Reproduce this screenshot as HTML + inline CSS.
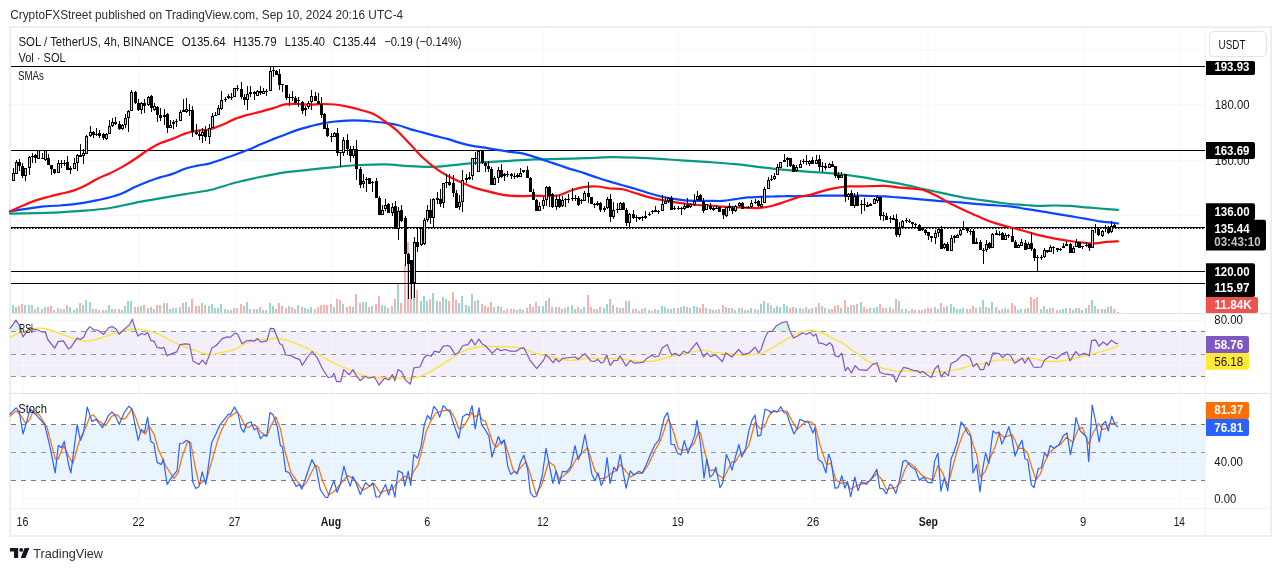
<!DOCTYPE html>
<html><head><meta charset="utf-8"><title>SOL/USDT chart</title>
<style>html,body{margin:0;padding:0;background:#fff;}body{width:1281px;height:571px;overflow:hidden;position:relative;}</style>
</head><body>
<svg width="1281" height="571" viewBox="0 0 1281 571" style="position:absolute;left:0;top:0">
<rect x="10" y="27" width="1261" height="509" fill="#fff" stroke="#eceef2" stroke-width="2"/>
<rect x="11" y="331.4" width="1194" height="45" fill="#f2eefa"/>
<rect x="11" y="424.6" width="1194" height="55.6" fill="#e9f4fe"/>
<line x1="23.7" y1="28" x2="23.7" y2="508" stroke="#f6f7f9" stroke-width="1"/>
<line x1="138.75" y1="28" x2="138.75" y2="508" stroke="#f6f7f9" stroke-width="1"/>
<line x1="235.5" y1="28" x2="235.5" y2="508" stroke="#f6f7f9" stroke-width="1"/>
<line x1="331.25" y1="28" x2="331.25" y2="508" stroke="#f6f7f9" stroke-width="1"/>
<line x1="427.5" y1="28" x2="427.5" y2="508" stroke="#f6f7f9" stroke-width="1"/>
<line x1="543.75" y1="28" x2="543.75" y2="508" stroke="#f6f7f9" stroke-width="1"/>
<line x1="678.75" y1="28" x2="678.75" y2="508" stroke="#f6f7f9" stroke-width="1"/>
<line x1="813.75" y1="28" x2="813.75" y2="508" stroke="#f6f7f9" stroke-width="1"/>
<line x1="928" y1="28" x2="928" y2="508" stroke="#f6f7f9" stroke-width="1"/>
<line x1="1083.25" y1="28" x2="1083.25" y2="508" stroke="#f6f7f9" stroke-width="1"/>
<line x1="1180" y1="28" x2="1180" y2="508" stroke="#f6f7f9" stroke-width="1"/>
<line x1="11" y1="49.5" x2="1205" y2="49.5" stroke="#f6f7f9" stroke-width="1"/>
<line x1="11" y1="104.5" x2="1205" y2="104.5" stroke="#f6f7f9" stroke-width="1"/>
<line x1="11" y1="160.5" x2="1205" y2="160.5" stroke="#f6f7f9" stroke-width="1"/>
<line x1="11" y1="215.5" x2="1205" y2="215.5" stroke="#f6f7f9" stroke-width="1"/>
<line x1="11" y1="271.5" x2="1205" y2="271.5" stroke="#f6f7f9" stroke-width="1"/>
<line x1="11" y1="320.5" x2="1205" y2="320.5" stroke="#f6f7f9" stroke-width="1"/>
<line x1="11" y1="365.5" x2="1205" y2="365.5" stroke="#f6f7f9" stroke-width="1"/>
<line x1="11" y1="461.5" x2="1205" y2="461.5" stroke="#f6f7f9" stroke-width="1"/>
<line x1="11" y1="498.5" x2="1205" y2="498.5" stroke="#f6f7f9" stroke-width="1"/>
<line x1="11" y1="313.5" x2="1269" y2="313.5" stroke="#e0e3eb" stroke-width="1"/>
<line x1="11" y1="393.5" x2="1269" y2="393.5" stroke="#e0e3eb" stroke-width="1"/>
<line x1="11" y1="508.5" x2="1269" y2="508.5" stroke="#f0f2f5" stroke-width="1"/>
<line x1="1205.5" y1="28" x2="1205.5" y2="534" stroke="#f3f4f7" stroke-width="1"/>
<defs><clipPath id="mc"><rect x="11" y="28" width="1194" height="285"/></clipPath></defs>
<g clip-path="url(#mc)"><rect x="8.1" y="308" width="1.8" height="5" fill="#93d2cc"/><rect x="12.1" y="305" width="1.8" height="8" fill="#93d2cc"/><rect x="15.1" y="307" width="1.8" height="6" fill="#93d2cc"/><rect x="18.1" y="306" width="1.8" height="7" fill="#f7a9a7"/><rect x="21.1" y="304" width="1.8" height="9" fill="#f7a9a7"/><rect x="24.1" y="305" width="1.8" height="8" fill="#93d2cc"/><rect x="28.1" y="305" width="1.8" height="8" fill="#93d2cc"/><rect x="31.1" y="305" width="1.8" height="8" fill="#93d2cc"/><rect x="34.1" y="309" width="1.8" height="4" fill="#f7a9a7"/><rect x="37.1" y="307" width="1.8" height="6" fill="#93d2cc"/><rect x="41.1" y="309" width="1.8" height="4" fill="#f7a9a7"/><rect x="44.1" y="307" width="1.8" height="6" fill="#93d2cc"/><rect x="47.1" y="307" width="1.8" height="6" fill="#f7a9a7"/><rect x="50.1" y="306" width="1.8" height="7" fill="#f7a9a7"/><rect x="53.1" y="310" width="1.8" height="3" fill="#f7a9a7"/><rect x="57.1" y="308" width="1.8" height="5" fill="#93d2cc"/><rect x="60.1" y="309" width="1.8" height="4" fill="#f7a9a7"/><rect x="63.1" y="309" width="1.8" height="4" fill="#93d2cc"/><rect x="66.1" y="305" width="1.8" height="8" fill="#f7a9a7"/><rect x="69.1" y="307" width="1.8" height="6" fill="#93d2cc"/><rect x="73.1" y="310" width="1.8" height="3" fill="#93d2cc"/><rect x="76.1" y="308" width="1.8" height="5" fill="#93d2cc"/><rect x="79.1" y="303" width="1.8" height="10" fill="#f7a9a7"/><rect x="82.1" y="305" width="1.8" height="8" fill="#93d2cc"/><rect x="85.1" y="300" width="1.8" height="13" fill="#93d2cc"/><rect x="89.1" y="302" width="1.8" height="11" fill="#93d2cc"/><rect x="92.1" y="309" width="1.8" height="4" fill="#f7a9a7"/><rect x="95.1" y="309" width="1.8" height="4" fill="#93d2cc"/><rect x="98.1" y="310" width="1.8" height="3" fill="#f7a9a7"/><rect x="102.1" y="310" width="1.8" height="3" fill="#f7a9a7"/><rect x="105.1" y="310" width="1.8" height="3" fill="#93d2cc"/><rect x="108.1" y="305" width="1.8" height="8" fill="#93d2cc"/><rect x="111.1" y="309" width="1.8" height="4" fill="#93d2cc"/><rect x="114.1" y="309" width="1.8" height="4" fill="#f7a9a7"/><rect x="118.1" y="309" width="1.8" height="4" fill="#f7a9a7"/><rect x="121.1" y="310" width="1.8" height="3" fill="#93d2cc"/><rect x="124.1" y="306" width="1.8" height="7" fill="#93d2cc"/><rect x="127.1" y="301" width="1.8" height="12" fill="#93d2cc"/><rect x="130.1" y="301" width="1.8" height="12" fill="#93d2cc"/><rect x="134.1" y="307" width="1.8" height="6" fill="#f7a9a7"/><rect x="137.1" y="307" width="1.8" height="6" fill="#f7a9a7"/><rect x="140.1" y="306" width="1.8" height="7" fill="#93d2cc"/><rect x="143.1" y="305" width="1.8" height="8" fill="#f7a9a7"/><rect x="147.1" y="308" width="1.8" height="5" fill="#93d2cc"/><rect x="150.1" y="307" width="1.8" height="6" fill="#f7a9a7"/><rect x="153.1" y="309" width="1.8" height="4" fill="#93d2cc"/><rect x="156.1" y="305" width="1.8" height="8" fill="#f7a9a7"/><rect x="159.1" y="305" width="1.8" height="8" fill="#f7a9a7"/><rect x="163.1" y="303" width="1.8" height="10" fill="#93d2cc"/><rect x="166.1" y="303" width="1.8" height="10" fill="#f7a9a7"/><rect x="169.1" y="309" width="1.8" height="4" fill="#93d2cc"/><rect x="172.1" y="308" width="1.8" height="5" fill="#93d2cc"/><rect x="175.1" y="308" width="1.8" height="5" fill="#93d2cc"/><rect x="179.1" y="307" width="1.8" height="6" fill="#93d2cc"/><rect x="182.1" y="303" width="1.8" height="10" fill="#f7a9a7"/><rect x="185.1" y="302" width="1.8" height="11" fill="#93d2cc"/><rect x="188.1" y="307" width="1.8" height="6" fill="#f7a9a7"/><rect x="191.1" y="299" width="1.8" height="14" fill="#f7a9a7"/><rect x="195.1" y="306" width="1.8" height="7" fill="#f7a9a7"/><rect x="198.1" y="306" width="1.8" height="7" fill="#f7a9a7"/><rect x="201.1" y="303" width="1.8" height="10" fill="#93d2cc"/><rect x="204.1" y="305" width="1.8" height="8" fill="#f7a9a7"/><rect x="208.1" y="306" width="1.8" height="7" fill="#93d2cc"/><rect x="211.1" y="304" width="1.8" height="9" fill="#93d2cc"/><rect x="214.1" y="308" width="1.8" height="5" fill="#93d2cc"/><rect x="217.1" y="308" width="1.8" height="5" fill="#93d2cc"/><rect x="220.1" y="304" width="1.8" height="9" fill="#93d2cc"/><rect x="224.1" y="309" width="1.8" height="4" fill="#93d2cc"/><rect x="227.1" y="310" width="1.8" height="3" fill="#93d2cc"/><rect x="230.1" y="310" width="1.8" height="3" fill="#f7a9a7"/><rect x="233.1" y="308" width="1.8" height="5" fill="#93d2cc"/><rect x="236.1" y="308" width="1.8" height="5" fill="#f7a9a7"/><rect x="240.1" y="304" width="1.8" height="9" fill="#f7a9a7"/><rect x="243.1" y="306" width="1.8" height="7" fill="#f7a9a7"/><rect x="246.1" y="302" width="1.8" height="11" fill="#93d2cc"/><rect x="249.1" y="309" width="1.8" height="4" fill="#93d2cc"/><rect x="253.1" y="309" width="1.8" height="4" fill="#f7a9a7"/><rect x="256.1" y="309" width="1.8" height="4" fill="#93d2cc"/><rect x="259.1" y="307" width="1.8" height="6" fill="#f7a9a7"/><rect x="262.1" y="310" width="1.8" height="3" fill="#93d2cc"/><rect x="265.1" y="310" width="1.8" height="3" fill="#93d2cc"/><rect x="269.1" y="303" width="1.8" height="10" fill="#93d2cc"/><rect x="272.1" y="306" width="1.8" height="7" fill="#93d2cc"/><rect x="275.1" y="309" width="1.8" height="4" fill="#f7a9a7"/><rect x="278.1" y="303" width="1.8" height="10" fill="#f7a9a7"/><rect x="281.1" y="306" width="1.8" height="7" fill="#f7a9a7"/><rect x="285.1" y="308" width="1.8" height="5" fill="#f7a9a7"/><rect x="288.1" y="306" width="1.8" height="7" fill="#93d2cc"/><rect x="291.1" y="307" width="1.8" height="6" fill="#f7a9a7"/><rect x="294.1" y="309" width="1.8" height="4" fill="#f7a9a7"/><rect x="297.1" y="305" width="1.8" height="8" fill="#93d2cc"/><rect x="301.1" y="307" width="1.8" height="6" fill="#f7a9a7"/><rect x="304.1" y="308" width="1.8" height="5" fill="#93d2cc"/><rect x="307.1" y="309" width="1.8" height="4" fill="#93d2cc"/><rect x="310.1" y="307" width="1.8" height="6" fill="#93d2cc"/><rect x="314.1" y="309" width="1.8" height="4" fill="#f7a9a7"/><rect x="317.1" y="307" width="1.8" height="6" fill="#f7a9a7"/><rect x="320.1" y="305" width="1.8" height="8" fill="#f7a9a7"/><rect x="323.1" y="305" width="1.8" height="8" fill="#f7a9a7"/><rect x="326.1" y="305" width="1.8" height="8" fill="#f7a9a7"/><rect x="330.1" y="304" width="1.8" height="9" fill="#f7a9a7"/><rect x="333.1" y="307" width="1.8" height="6" fill="#93d2cc"/><rect x="336.1" y="299" width="1.8" height="14" fill="#f7a9a7"/><rect x="339.1" y="300" width="1.8" height="13" fill="#f7a9a7"/><rect x="342.1" y="304" width="1.8" height="9" fill="#93d2cc"/><rect x="346.1" y="307" width="1.8" height="6" fill="#f7a9a7"/><rect x="349.1" y="306" width="1.8" height="7" fill="#f7a9a7"/><rect x="352.1" y="307" width="1.8" height="6" fill="#93d2cc"/><rect x="355.1" y="294" width="1.8" height="19" fill="#f7a9a7"/><rect x="359.1" y="303" width="1.8" height="10" fill="#f7a9a7"/><rect x="362.1" y="302" width="1.8" height="11" fill="#93d2cc"/><rect x="365.1" y="302" width="1.8" height="11" fill="#93d2cc"/><rect x="368.1" y="307" width="1.8" height="6" fill="#f7a9a7"/><rect x="371.1" y="306" width="1.8" height="7" fill="#93d2cc"/><rect x="375.1" y="304" width="1.8" height="9" fill="#f7a9a7"/><rect x="378.1" y="296" width="1.8" height="17" fill="#f7a9a7"/><rect x="381.1" y="305" width="1.8" height="8" fill="#93d2cc"/><rect x="384.1" y="306" width="1.8" height="7" fill="#93d2cc"/><rect x="387.1" y="308" width="1.8" height="5" fill="#f7a9a7"/><rect x="391.1" y="306" width="1.8" height="7" fill="#93d2cc"/><rect x="394.1" y="299" width="1.8" height="14" fill="#f7a9a7"/><rect x="397.1" y="284" width="1.8" height="29" fill="#93d2cc"/><rect x="400.1" y="303" width="1.8" height="10" fill="#f7a9a7"/><rect x="404.1" y="265" width="1.8" height="48" fill="#f7a9a7"/><rect x="407.1" y="242" width="1.8" height="71" fill="#f7a9a7"/><rect x="410.1" y="263" width="1.8" height="50" fill="#f7a9a7"/><rect x="413.1" y="284" width="1.8" height="29" fill="#93d2cc"/><rect x="416.1" y="290" width="1.8" height="23" fill="#f7a9a7"/><rect x="420.1" y="301" width="1.8" height="12" fill="#93d2cc"/><rect x="423.1" y="296" width="1.8" height="17" fill="#93d2cc"/><rect x="426.1" y="301" width="1.8" height="12" fill="#93d2cc"/><rect x="429.1" y="299" width="1.8" height="14" fill="#f7a9a7"/><rect x="432.1" y="293" width="1.8" height="20" fill="#93d2cc"/><rect x="436.1" y="301" width="1.8" height="12" fill="#93d2cc"/><rect x="439.1" y="302" width="1.8" height="11" fill="#f7a9a7"/><rect x="442.1" y="297" width="1.8" height="16" fill="#93d2cc"/><rect x="445.1" y="299" width="1.8" height="14" fill="#93d2cc"/><rect x="448.1" y="301" width="1.8" height="12" fill="#f7a9a7"/><rect x="452.1" y="292" width="1.8" height="21" fill="#f7a9a7"/><rect x="455.1" y="300" width="1.8" height="13" fill="#f7a9a7"/><rect x="458.1" y="303" width="1.8" height="10" fill="#93d2cc"/><rect x="461.1" y="296" width="1.8" height="17" fill="#93d2cc"/><rect x="465.1" y="305" width="1.8" height="8" fill="#93d2cc"/><rect x="468.1" y="306" width="1.8" height="7" fill="#93d2cc"/><rect x="471.1" y="294" width="1.8" height="19" fill="#93d2cc"/><rect x="474.1" y="301" width="1.8" height="12" fill="#f7a9a7"/><rect x="477.1" y="300" width="1.8" height="13" fill="#93d2cc"/><rect x="481.1" y="304" width="1.8" height="9" fill="#f7a9a7"/><rect x="484.1" y="306" width="1.8" height="7" fill="#f7a9a7"/><rect x="487.1" y="307" width="1.8" height="6" fill="#f7a9a7"/><rect x="490.1" y="302" width="1.8" height="11" fill="#f7a9a7"/><rect x="493.1" y="307" width="1.8" height="6" fill="#93d2cc"/><rect x="497.1" y="306" width="1.8" height="7" fill="#93d2cc"/><rect x="500.1" y="307" width="1.8" height="6" fill="#f7a9a7"/><rect x="503.1" y="310" width="1.8" height="3" fill="#93d2cc"/><rect x="506.1" y="309" width="1.8" height="4" fill="#f7a9a7"/><rect x="510.1" y="309" width="1.8" height="4" fill="#f7a9a7"/><rect x="513.1" y="309" width="1.8" height="4" fill="#93d2cc"/><rect x="516.1" y="310" width="1.8" height="3" fill="#f7a9a7"/><rect x="519.1" y="309" width="1.8" height="4" fill="#93d2cc"/><rect x="522.1" y="310" width="1.8" height="3" fill="#93d2cc"/><rect x="526.1" y="308" width="1.8" height="5" fill="#f7a9a7"/><rect x="529.1" y="304" width="1.8" height="9" fill="#f7a9a7"/><rect x="532.1" y="307" width="1.8" height="6" fill="#f7a9a7"/><rect x="535.1" y="302" width="1.8" height="11" fill="#f7a9a7"/><rect x="538.1" y="306" width="1.8" height="7" fill="#93d2cc"/><rect x="542.1" y="306" width="1.8" height="7" fill="#93d2cc"/><rect x="545.1" y="301" width="1.8" height="12" fill="#93d2cc"/><rect x="548.1" y="298" width="1.8" height="15" fill="#f7a9a7"/><rect x="551.1" y="307" width="1.8" height="6" fill="#f7a9a7"/><rect x="555.1" y="307" width="1.8" height="6" fill="#93d2cc"/><rect x="558.1" y="307" width="1.8" height="6" fill="#f7a9a7"/><rect x="561.1" y="309" width="1.8" height="4" fill="#93d2cc"/><rect x="564.1" y="308" width="1.8" height="5" fill="#f7a9a7"/><rect x="567.1" y="307" width="1.8" height="6" fill="#93d2cc"/><rect x="571.1" y="305" width="1.8" height="8" fill="#93d2cc"/><rect x="574.1" y="309" width="1.8" height="4" fill="#93d2cc"/><rect x="577.1" y="307" width="1.8" height="6" fill="#f7a9a7"/><rect x="580.1" y="309" width="1.8" height="4" fill="#93d2cc"/><rect x="583.1" y="307" width="1.8" height="6" fill="#93d2cc"/><rect x="587.1" y="295" width="1.8" height="18" fill="#f7a9a7"/><rect x="590.1" y="307" width="1.8" height="6" fill="#f7a9a7"/><rect x="593.1" y="309" width="1.8" height="4" fill="#f7a9a7"/><rect x="596.1" y="309" width="1.8" height="4" fill="#93d2cc"/><rect x="599.1" y="307" width="1.8" height="6" fill="#f7a9a7"/><rect x="603.1" y="308" width="1.8" height="5" fill="#93d2cc"/><rect x="606.1" y="304" width="1.8" height="9" fill="#93d2cc"/><rect x="609.1" y="299" width="1.8" height="14" fill="#f7a9a7"/><rect x="612.1" y="305" width="1.8" height="8" fill="#93d2cc"/><rect x="616.1" y="307" width="1.8" height="6" fill="#f7a9a7"/><rect x="619.1" y="308" width="1.8" height="5" fill="#93d2cc"/><rect x="622.1" y="308" width="1.8" height="5" fill="#f7a9a7"/><rect x="625.1" y="301" width="1.8" height="12" fill="#f7a9a7"/><rect x="628.1" y="301" width="1.8" height="12" fill="#93d2cc"/><rect x="632.1" y="309" width="1.8" height="4" fill="#f7a9a7"/><rect x="635.1" y="309" width="1.8" height="4" fill="#f7a9a7"/><rect x="638.1" y="311" width="1.8" height="2" fill="#93d2cc"/><rect x="641.1" y="309" width="1.8" height="4" fill="#f7a9a7"/><rect x="644.1" y="308" width="1.8" height="5" fill="#93d2cc"/><rect x="648.1" y="310" width="1.8" height="3" fill="#93d2cc"/><rect x="651.1" y="311" width="1.8" height="2" fill="#93d2cc"/><rect x="654.1" y="309" width="1.8" height="4" fill="#f7a9a7"/><rect x="657.1" y="310" width="1.8" height="3" fill="#93d2cc"/><rect x="661.1" y="306" width="1.8" height="7" fill="#93d2cc"/><rect x="664.1" y="307" width="1.8" height="6" fill="#93d2cc"/><rect x="667.1" y="309" width="1.8" height="4" fill="#93d2cc"/><rect x="670.1" y="309" width="1.8" height="4" fill="#f7a9a7"/><rect x="673.1" y="308" width="1.8" height="5" fill="#93d2cc"/><rect x="677.1" y="308" width="1.8" height="5" fill="#f7a9a7"/><rect x="680.1" y="307" width="1.8" height="6" fill="#93d2cc"/><rect x="683.1" y="306" width="1.8" height="7" fill="#93d2cc"/><rect x="686.1" y="307" width="1.8" height="6" fill="#f7a9a7"/><rect x="689.1" y="308" width="1.8" height="5" fill="#93d2cc"/><rect x="693.1" y="306" width="1.8" height="7" fill="#93d2cc"/><rect x="696.1" y="307" width="1.8" height="6" fill="#93d2cc"/><rect x="699.1" y="308" width="1.8" height="5" fill="#f7a9a7"/><rect x="702.1" y="304" width="1.8" height="9" fill="#f7a9a7"/><rect x="705.1" y="308" width="1.8" height="5" fill="#93d2cc"/><rect x="709.1" y="309" width="1.8" height="4" fill="#f7a9a7"/><rect x="712.1" y="310" width="1.8" height="3" fill="#93d2cc"/><rect x="715.1" y="310" width="1.8" height="3" fill="#93d2cc"/><rect x="718.1" y="309" width="1.8" height="4" fill="#f7a9a7"/><rect x="722.1" y="305" width="1.8" height="8" fill="#f7a9a7"/><rect x="725.1" y="307" width="1.8" height="6" fill="#93d2cc"/><rect x="728.1" y="308" width="1.8" height="5" fill="#f7a9a7"/><rect x="731.1" y="308" width="1.8" height="5" fill="#f7a9a7"/><rect x="734.1" y="310" width="1.8" height="3" fill="#93d2cc"/><rect x="738.1" y="308" width="1.8" height="5" fill="#93d2cc"/><rect x="741.1" y="308" width="1.8" height="5" fill="#f7a9a7"/><rect x="744.1" y="310" width="1.8" height="3" fill="#93d2cc"/><rect x="747.1" y="310" width="1.8" height="3" fill="#93d2cc"/><rect x="750.1" y="308" width="1.8" height="5" fill="#93d2cc"/><rect x="754.1" y="309" width="1.8" height="4" fill="#93d2cc"/><rect x="757.1" y="310" width="1.8" height="3" fill="#f7a9a7"/><rect x="760.1" y="304" width="1.8" height="9" fill="#93d2cc"/><rect x="763.1" y="301" width="1.8" height="12" fill="#93d2cc"/><rect x="767.1" y="303" width="1.8" height="10" fill="#93d2cc"/><rect x="770.1" y="305" width="1.8" height="8" fill="#f7a9a7"/><rect x="773.1" y="308" width="1.8" height="5" fill="#93d2cc"/><rect x="776.1" y="306" width="1.8" height="7" fill="#93d2cc"/><rect x="779.1" y="307" width="1.8" height="6" fill="#93d2cc"/><rect x="783.1" y="304" width="1.8" height="9" fill="#93d2cc"/><rect x="786.1" y="306" width="1.8" height="7" fill="#93d2cc"/><rect x="789.1" y="308" width="1.8" height="5" fill="#f7a9a7"/><rect x="792.1" y="307" width="1.8" height="6" fill="#f7a9a7"/><rect x="795.1" y="308" width="1.8" height="5" fill="#93d2cc"/><rect x="799.1" y="308" width="1.8" height="5" fill="#93d2cc"/><rect x="802.1" y="309" width="1.8" height="4" fill="#f7a9a7"/><rect x="805.1" y="307" width="1.8" height="6" fill="#f7a9a7"/><rect x="808.1" y="309" width="1.8" height="4" fill="#93d2cc"/><rect x="811.1" y="308" width="1.8" height="5" fill="#f7a9a7"/><rect x="815.1" y="307" width="1.8" height="6" fill="#93d2cc"/><rect x="818.1" y="303" width="1.8" height="10" fill="#f7a9a7"/><rect x="821.1" y="306" width="1.8" height="7" fill="#93d2cc"/><rect x="824.1" y="308" width="1.8" height="5" fill="#f7a9a7"/><rect x="828.1" y="309" width="1.8" height="4" fill="#93d2cc"/><rect x="831.1" y="309" width="1.8" height="4" fill="#f7a9a7"/><rect x="834.1" y="306" width="1.8" height="7" fill="#f7a9a7"/><rect x="837.1" y="305" width="1.8" height="8" fill="#f7a9a7"/><rect x="840.1" y="308" width="1.8" height="5" fill="#93d2cc"/><rect x="844.1" y="300" width="1.8" height="13" fill="#f7a9a7"/><rect x="847.1" y="307" width="1.8" height="6" fill="#93d2cc"/><rect x="850.1" y="305" width="1.8" height="8" fill="#f7a9a7"/><rect x="853.1" y="305" width="1.8" height="8" fill="#93d2cc"/><rect x="856.1" y="304" width="1.8" height="9" fill="#f7a9a7"/><rect x="860.1" y="302" width="1.8" height="11" fill="#93d2cc"/><rect x="863.1" y="307" width="1.8" height="6" fill="#f7a9a7"/><rect x="866.1" y="309" width="1.8" height="4" fill="#f7a9a7"/><rect x="869.1" y="308" width="1.8" height="5" fill="#93d2cc"/><rect x="873.1" y="308" width="1.8" height="5" fill="#93d2cc"/><rect x="876.1" y="307" width="1.8" height="6" fill="#93d2cc"/><rect x="879.1" y="304" width="1.8" height="9" fill="#f7a9a7"/><rect x="882.1" y="308" width="1.8" height="5" fill="#f7a9a7"/><rect x="885.1" y="308" width="1.8" height="5" fill="#f7a9a7"/><rect x="889.1" y="307" width="1.8" height="6" fill="#93d2cc"/><rect x="892.1" y="309" width="1.8" height="4" fill="#f7a9a7"/><rect x="895.1" y="299" width="1.8" height="14" fill="#f7a9a7"/><rect x="898.1" y="301" width="1.8" height="12" fill="#93d2cc"/><rect x="901.1" y="309" width="1.8" height="4" fill="#93d2cc"/><rect x="905.1" y="309" width="1.8" height="4" fill="#93d2cc"/><rect x="908.1" y="311" width="1.8" height="2" fill="#f7a9a7"/><rect x="911.1" y="309" width="1.8" height="4" fill="#f7a9a7"/><rect x="914.1" y="310" width="1.8" height="3" fill="#f7a9a7"/><rect x="918.1" y="310" width="1.8" height="3" fill="#f7a9a7"/><rect x="921.1" y="310" width="1.8" height="3" fill="#93d2cc"/><rect x="924.1" y="309" width="1.8" height="4" fill="#f7a9a7"/><rect x="927.1" y="308" width="1.8" height="5" fill="#f7a9a7"/><rect x="930.1" y="308" width="1.8" height="5" fill="#f7a9a7"/><rect x="934.1" y="307" width="1.8" height="6" fill="#93d2cc"/><rect x="937.1" y="309" width="1.8" height="4" fill="#93d2cc"/><rect x="940.1" y="303" width="1.8" height="10" fill="#f7a9a7"/><rect x="943.1" y="307" width="1.8" height="6" fill="#93d2cc"/><rect x="946.1" y="306" width="1.8" height="7" fill="#f7a9a7"/><rect x="950.1" y="304" width="1.8" height="9" fill="#93d2cc"/><rect x="953.1" y="307" width="1.8" height="6" fill="#93d2cc"/><rect x="956.1" y="309" width="1.8" height="4" fill="#93d2cc"/><rect x="959.1" y="309" width="1.8" height="4" fill="#93d2cc"/><rect x="962.1" y="308" width="1.8" height="5" fill="#93d2cc"/><rect x="966.1" y="309" width="1.8" height="4" fill="#f7a9a7"/><rect x="969.1" y="309" width="1.8" height="4" fill="#f7a9a7"/><rect x="972.1" y="306" width="1.8" height="7" fill="#f7a9a7"/><rect x="975.1" y="308" width="1.8" height="5" fill="#93d2cc"/><rect x="979.1" y="307" width="1.8" height="6" fill="#f7a9a7"/><rect x="982.1" y="300" width="1.8" height="13" fill="#93d2cc"/><rect x="985.1" y="307" width="1.8" height="6" fill="#93d2cc"/><rect x="988.1" y="308" width="1.8" height="5" fill="#f7a9a7"/><rect x="991.1" y="302" width="1.8" height="11" fill="#93d2cc"/><rect x="995.1" y="307" width="1.8" height="6" fill="#f7a9a7"/><rect x="998.1" y="310" width="1.8" height="3" fill="#93d2cc"/><rect x="1001.1" y="309" width="1.8" height="4" fill="#f7a9a7"/><rect x="1004.1" y="308" width="1.8" height="5" fill="#93d2cc"/><rect x="1007.1" y="309" width="1.8" height="4" fill="#f7a9a7"/><rect x="1011.1" y="303" width="1.8" height="10" fill="#f7a9a7"/><rect x="1014.1" y="306" width="1.8" height="7" fill="#f7a9a7"/><rect x="1017.1" y="310" width="1.8" height="3" fill="#93d2cc"/><rect x="1020.1" y="309" width="1.8" height="4" fill="#93d2cc"/><rect x="1024.1" y="309" width="1.8" height="4" fill="#f7a9a7"/><rect x="1027.1" y="308" width="1.8" height="5" fill="#93d2cc"/><rect x="1030.1" y="297" width="1.8" height="16" fill="#f7a9a7"/><rect x="1033.1" y="299" width="1.8" height="14" fill="#f7a9a7"/><rect x="1036.1" y="297" width="1.8" height="16" fill="#f7a9a7"/><rect x="1040.1" y="309" width="1.8" height="4" fill="#93d2cc"/><rect x="1043.1" y="306" width="1.8" height="7" fill="#93d2cc"/><rect x="1046.1" y="309" width="1.8" height="4" fill="#f7a9a7"/><rect x="1049.1" y="308" width="1.8" height="5" fill="#93d2cc"/><rect x="1052.1" y="308" width="1.8" height="5" fill="#f7a9a7"/><rect x="1056.1" y="310" width="1.8" height="3" fill="#f7a9a7"/><rect x="1059.1" y="310" width="1.8" height="3" fill="#93d2cc"/><rect x="1062.1" y="309" width="1.8" height="4" fill="#93d2cc"/><rect x="1065.1" y="308" width="1.8" height="5" fill="#93d2cc"/><rect x="1069.1" y="308" width="1.8" height="5" fill="#f7a9a7"/><rect x="1072.1" y="310" width="1.8" height="3" fill="#93d2cc"/><rect x="1075.1" y="308" width="1.8" height="5" fill="#93d2cc"/><rect x="1078.1" y="308" width="1.8" height="5" fill="#f7a9a7"/><rect x="1081.1" y="310" width="1.8" height="3" fill="#93d2cc"/><rect x="1085.1" y="308" width="1.8" height="5" fill="#93d2cc"/><rect x="1088.1" y="305" width="1.8" height="8" fill="#f7a9a7"/><rect x="1091.1" y="300" width="1.8" height="13" fill="#93d2cc"/><rect x="1094.1" y="306" width="1.8" height="7" fill="#93d2cc"/><rect x="1097.1" y="309" width="1.8" height="4" fill="#f7a9a7"/><rect x="1101.1" y="309" width="1.8" height="4" fill="#93d2cc"/><rect x="1104.1" y="309" width="1.8" height="4" fill="#93d2cc"/><rect x="1107.1" y="307" width="1.8" height="6" fill="#f7a9a7"/><rect x="1110.1" y="306" width="1.8" height="7" fill="#93d2cc"/><rect x="1113.1" y="309" width="1.8" height="4" fill="#f7a9a7"/><rect x="1117.1" y="312" width="1.8" height="1" fill="#f7a9a7"/></g>
<line x1="11" y1="66.5" x2="1205" y2="66.5" stroke="#000" stroke-width="1"/>
<line x1="11" y1="150.5" x2="1205" y2="150.5" stroke="#000" stroke-width="1"/>
<line x1="11" y1="271.5" x2="1205" y2="271.5" stroke="#000" stroke-width="1"/>
<line x1="11" y1="283.5" x2="1205" y2="283.5" stroke="#000" stroke-width="1"/>
<line x1="11" y1="227.5" x2="1205" y2="227.5" stroke="#000" stroke-width="1"/>
<line x1="11" y1="228.5" x2="1205" y2="228.5" stroke="#000" stroke-width="1" stroke-dasharray="1.5 1.5"/>
<path d="M10,213.7 C14.2,213.6 26.7,213.4 35,213.2 C43.3,213 51.7,212.7 60,212.3 C68.3,211.9 76.7,211.4 85,210.7 C93.3,210 101.7,209.3 110,208 C118.3,206.7 126.7,204.4 135,202.8 C143.3,201.2 151.7,199.9 160,198.4 C168.3,196.9 176.7,195.5 185,194.1 C193.3,192.7 201.7,191.9 210,190 C218.3,188.1 226.7,185 235,182.8 C243.3,180.6 251.7,178.8 260,177 C268.3,175.2 276.7,173.5 285,172.3 C293.3,171.1 301.7,170.6 310,169.7 C318.3,168.8 326.7,167.9 335,167.1 C343.3,166.3 351.7,165.4 360,165 C368.3,164.6 376.7,164.2 385,164.4 C393.3,164.6 401.7,165.7 410,166.1 C418.3,166.5 426.7,167.2 435,166.9 C443.3,166.6 451.7,165.1 460,164.3 C468.3,163.5 476.7,162.8 485,162.2 C493.3,161.6 501.7,161.3 510,160.8 C518.3,160.3 526.7,159.7 535,159.4 C543.3,159.1 551.7,159.1 560,158.9 C568.3,158.7 576.7,158.5 585,158.2 C593.3,157.9 601.7,157.3 610,157.2 C618.3,157.1 626.7,157.4 635,157.7 C643.3,158 651.7,158.4 660,158.9 C668.3,159.4 676.7,160.1 685,160.6 C693.3,161.1 701.7,161.6 710,162.2 C718.3,162.8 726.7,163.4 735,164.2 C743.3,165 751.7,166.1 760,167.1 C768.3,168.1 776.7,169.1 785,169.9 C793.3,170.7 801.7,171.2 810,171.8 C818.3,172.4 826.7,172.8 835,173.6 C843.3,174.4 851.7,175.5 860,176.8 C868.3,178.1 876.7,179.7 885,181.2 C893.3,182.7 903.8,184.6 910,185.9 C916.2,187.2 918.2,188 922.4,188.9 C926.6,189.8 930.8,190.6 935,191.5 C939.2,192.4 943.3,193.3 947.5,194.2 C951.7,195.1 955.8,196 960,196.8 C964.2,197.6 968.3,198.3 972.5,198.9 C976.7,199.5 980.8,200 985,200.6 C989.2,201.2 993.4,201.8 997.6,202.4 C1001.8,203 1005.4,203.6 1010,204 C1014.6,204.4 1020,204.7 1025,205 C1030,205.3 1035,205.8 1040,205.9 C1045,206 1050,205.5 1055,205.5 C1060,205.5 1065,205.6 1070,205.9 C1075,206.2 1080,206.9 1085,207.3 C1090,207.7 1094.5,208.1 1100,208.5 C1105.5,208.9 1115,209.7 1118,209.9" fill="none" stroke="#089981" stroke-width="2.2" stroke-linecap="round" stroke-linejoin="round"/>
<path d="M10,211.4 C12.1,211.1 18.2,209.9 22.4,209.3 C26.6,208.7 30.8,208.1 35,207.6 C39.2,207.1 43.3,206.5 47.5,206.2 C51.7,205.8 55.8,205.8 60,205.5 C64.2,205.2 68.3,204.9 72.5,204.4 C76.7,203.9 80.8,203.4 85,202.7 C89.2,202 93.4,201.1 97.6,200.2 C101.8,199.3 105.9,198.5 110,197.3 C114.1,196.1 118.2,194.9 122.4,193.2 C126.6,191.5 130.8,189 135,187.1 C139.2,185.2 143.3,183.4 147.5,181.8 C151.7,180.2 155.8,178.7 160,177.4 C164.2,176.1 168.3,175.4 172.5,173.9 C176.7,172.4 180.8,170.1 185,168.7 C189.2,167.3 193.4,166.6 197.6,165.7 C201.8,164.8 205.9,164.5 210,163.4 C214.1,162.3 218.2,160.6 222.4,159.2 C226.6,157.8 230.8,156.3 235,154.8 C239.2,153.3 243.3,151.8 247.5,150.1 C251.7,148.4 255.8,146.4 260,144.6 C264.2,142.8 268.3,141.1 272.5,139.4 C276.7,137.8 280.8,136.3 285,134.7 C289.2,133.1 293.4,131.3 297.6,129.9 C301.8,128.5 305.9,127.5 310,126.4 C314.1,125.3 318.2,124.1 322.4,123.3 C326.6,122.5 330.8,122 335,121.5 C339.2,121 343.3,120.8 347.5,120.6 C351.7,120.4 355.8,120.4 360,120.6 C364.2,120.8 368.3,121.1 372.5,121.5 C376.7,121.9 380.8,122.3 385,122.9 C389.2,123.5 393.4,124 397.6,125 C401.8,126 405.9,127.9 410,129.1 C414.1,130.3 418.2,131.3 422.4,132.4 C426.6,133.5 430.8,134.8 435,135.9 C439.2,137 443.3,137.7 447.5,138.9 C451.7,140.1 455.8,141.7 460,142.9 C464.2,144.1 468.3,145.1 472.5,145.9 C476.7,146.7 480.8,147 485,147.7 C489.2,148.4 493.4,149.2 497.6,149.9 C501.8,150.6 505.9,151.3 510,151.9 C514.1,152.5 518.2,152.4 522.4,153.3 C526.6,154.2 530.8,155.8 535,157.1 C539.2,158.4 543.3,159.8 547.5,161.2 C551.7,162.6 555.8,164.1 560,165.5 C564.2,166.9 568.3,168.3 572.5,169.6 C576.7,170.9 580.8,172 585,173.4 C589.2,174.8 593.4,176.4 597.6,177.8 C601.8,179.2 605.9,180.4 610,181.6 C614.1,182.8 618.2,184 622.4,185.2 C626.6,186.4 630.8,187.4 635,188.7 C639.2,189.9 643.3,191.4 647.5,192.7 C651.7,193.9 655.8,195.2 660,196.2 C664.2,197.2 668.3,198 672.5,198.7 C676.7,199.4 680.8,200 685,200.4 C689.2,200.8 693.4,200.8 697.6,200.9 C701.8,201 705.9,200.9 710,200.9 C714.1,200.9 718.2,201.2 722.4,200.9 C726.6,200.6 730.8,199.8 735,199.2 C739.2,198.6 743.3,197.8 747.5,197.4 C751.7,197 755.8,197.1 760,196.9 C764.2,196.8 768.3,196.6 772.5,196.5 C776.7,196.4 780.8,196.2 785,196.2 C789.2,196.1 793.4,196.3 797.6,196.2 C801.8,196.1 805.9,195.9 810,195.8 C814.1,195.7 818.2,195.7 822.4,195.7 C826.6,195.7 830.8,195.7 835,195.7 C839.2,195.7 843.3,195.7 847.5,195.7 C851.7,195.7 855.8,195.6 860,195.7 C864.2,195.8 868.3,195.9 872.5,196 C876.7,196.1 880.8,196.2 885,196.4 C889.2,196.6 893.4,197.1 897.6,197.4 C901.8,197.7 903.8,197.9 910,198.4 C916.2,198.9 926.7,199.9 935,200.6 C943.3,201.3 951.7,201.7 960,202.4 C968.3,203.1 976.7,204 985,204.7 C993.3,205.4 1003.3,205.7 1010,206.4 C1016.7,207.1 1020,208 1025,208.8 C1030,209.6 1035,210.3 1040,211.1 C1045,211.9 1050,212.8 1055,213.7 C1060,214.5 1065,215.4 1070,216.2 C1075,217 1080,217.7 1085,218.6 C1090,219.5 1095.8,220.8 1100,221.4 C1104.2,222 1107,222.1 1110,222.4 C1113,222.8 1116.7,223.3 1118,223.5" fill="none" stroke="#0a46ff" stroke-width="2.2" stroke-linecap="round" stroke-linejoin="round"/>
<path d="M10,211.4 C12.1,210.5 18.2,207.6 22.4,205.8 C26.6,204 30.8,202.1 35,200.6 C39.2,199.1 43.3,198.2 47.5,197.1 C51.7,196 55.8,194.9 60,193.9 C64.2,192.9 68.3,192.3 72.5,190.9 C76.7,189.5 80.8,187.7 85,185.7 C89.2,183.7 93.4,180.8 97.6,178.7 C101.8,176.6 105.9,175.2 110,173.2 C114.1,171.2 118.2,169.3 122.4,166.9 C126.6,164.5 130.8,161.8 135,159 C139.2,156.2 143.3,152.9 147.5,150.3 C151.7,147.7 155.8,145.2 160,143.3 C164.2,141.4 168.3,140.5 172.5,138.9 C176.7,137.3 180.8,135 185,133.6 C189.2,132.2 193.4,131.4 197.6,130.7 C201.8,130 205.9,130.2 210,129.2 C214.1,128.2 218.2,126.4 222.4,124.7 C226.6,123 230.8,120.5 235,118.9 C239.2,117.3 243.3,116.1 247.5,114.9 C251.7,113.7 255.8,113 260,111.9 C264.2,110.8 268.3,109.7 272.5,108.4 C276.7,107.2 280.8,105.1 285,104.4 C289.2,103.7 293.4,104 297.6,104 C301.8,104 305.9,104.6 310,104.6 C314.1,104.6 318.2,104 322.4,104 C326.6,104 330.8,104.1 335,104.5 C339.2,104.9 343.3,105.7 347.5,106.6 C351.7,107.5 355.8,108.6 360,109.8 C364.2,111 368.3,111.6 372.5,113.6 C376.7,115.5 380.8,118.6 385,121.5 C389.2,124.4 393.4,127.4 397.6,131.2 C401.8,135 405.9,139.8 410,144.1 C414.1,148.4 418.2,153.4 422.4,157.3 C426.6,161.2 430.8,164.7 435,167.8 C439.2,170.9 443.3,173.4 447.5,175.7 C451.7,178 455.8,179.9 460,181.8 C464.2,183.7 468.3,185.6 472.5,187.1 C476.7,188.6 480.8,189.5 485,190.6 C489.2,191.7 493.4,192.8 497.6,193.7 C501.8,194.5 505.9,195.3 510,195.7 C514.1,196.1 518.2,196.2 522.4,196.2 C526.6,196.2 530.8,195.7 535,195.7 C539.2,195.7 543.3,196.3 547.5,196.2 C551.7,196.1 555.8,196 560,195 C564.2,194 568.3,191.3 572.5,190 C576.7,188.7 580.8,187.5 585,186.9 C589.2,186.3 593.4,186.2 597.6,186.5 C601.8,186.8 605.9,188.1 610,188.5 C614.1,188.9 618.2,188.4 622.4,189.2 C626.6,189.9 630.8,191.7 635,193 C639.2,194.3 643.3,195.8 647.5,196.9 C651.7,198 655.8,198.9 660,199.7 C664.2,200.5 668.3,201.2 672.5,201.8 C676.7,202.5 680.8,203.1 685,203.6 C689.2,204.1 693.4,204.7 697.6,205 C701.8,205.3 705.9,205.2 710,205.5 C714.1,205.8 718.2,206.4 722.4,206.7 C726.6,207 730.8,206.9 735,207.1 C739.2,207.3 743.3,207.8 747.5,207.9 C751.7,208 755.8,208.3 760,207.9 C764.2,207.5 768.3,206.7 772.5,205.7 C776.7,204.7 780.8,203.2 785,201.8 C789.2,200.4 793.4,198.6 797.6,197.4 C801.8,196.2 805.9,195.9 810,194.8 C814.1,193.8 818.2,192.2 822.4,191.1 C826.6,190 830.8,189 835,188.2 C839.2,187.4 843.3,186.7 847.5,186.4 C851.7,186.1 855.8,186.5 860,186.4 C864.2,186.3 868.3,186.2 872.5,186.1 C876.7,186 880.8,185.7 885,185.9 C889.2,186.1 893.4,186.9 897.6,187.3 C901.8,187.7 905.9,187.9 910,188.3 C914.1,188.7 918.2,188.7 922.4,189.8 C926.6,190.9 930.8,193 935,195 C939.2,197 943.3,199.8 947.5,202 C951.7,204.2 955.8,206.2 960,208.2 C964.2,210.2 968.3,212 972.5,213.9 C976.7,215.8 980.8,217.8 985,219.5 C989.2,221.2 993.4,222.6 997.6,223.9 C1001.8,225.2 1005.4,226.1 1010,227.3 C1014.6,228.5 1020,229.8 1025,231.2 C1030,232.5 1035,234.2 1040,235.4 C1045,236.6 1050,237.7 1055,238.6 C1060,239.5 1065,240.3 1070,241 C1075,241.7 1081,242.4 1085,242.8 C1089,243.2 1091.5,243.4 1094,243.4 C1096.5,243.4 1097.3,243.1 1100,242.8 C1102.7,242.5 1107,241.9 1110,241.7 C1113,241.4 1116.7,241.4 1118,241.3" fill="none" stroke="#ff0d12" stroke-width="2.2" stroke-linecap="round" stroke-linejoin="round"/>
<g clip-path="url(#mc)"><rect x="9" y="175" width="1" height="9" fill="#000"/><rect x="8" y="176" width="3" height="7" fill="#000"/><rect x="9" y="177" width="1" height="5" fill="#cdd0db"/><rect x="13" y="168" width="1" height="13" fill="#000"/><rect x="12" y="173" width="3" height="8" fill="#000"/><rect x="13" y="174" width="1" height="6" fill="#cdd0db"/><rect x="16" y="160" width="1" height="14" fill="#000"/><rect x="15" y="162" width="3" height="12" fill="#000"/><rect x="16" y="163" width="1" height="10" fill="#cdd0db"/><rect x="19" y="159" width="1" height="12" fill="#000"/><rect x="18" y="162" width="3" height="4" fill="#000"/><rect x="22" y="163" width="1" height="15" fill="#000"/><rect x="21" y="166" width="3" height="10" fill="#000"/><rect x="25" y="168" width="1" height="13" fill="#000"/><rect x="24" y="168" width="3" height="8" fill="#000"/><rect x="25" y="169" width="1" height="6" fill="#cdd0db"/><rect x="29" y="156" width="1" height="19" fill="#000"/><rect x="28" y="157" width="3" height="11" fill="#000"/><rect x="29" y="158" width="1" height="9" fill="#cdd0db"/><rect x="32" y="153" width="1" height="10" fill="#000"/><rect x="31" y="156" width="3" height="1" fill="#000"/><rect x="35" y="154" width="1" height="9" fill="#000"/><rect x="34" y="155" width="3" height="3" fill="#000"/><rect x="38" y="150" width="1" height="9" fill="#000"/><rect x="37" y="150" width="3" height="9" fill="#000"/><rect x="38" y="151" width="1" height="7" fill="#cdd0db"/><rect x="42" y="153" width="1" height="6" fill="#000"/><rect x="41" y="158" width="3" height="1" fill="#000"/><rect x="45" y="150" width="1" height="11" fill="#000"/><rect x="44" y="150" width="3" height="10" fill="#000"/><rect x="45" y="151" width="1" height="8" fill="#cdd0db"/><rect x="48" y="154" width="1" height="11" fill="#000"/><rect x="47" y="158" width="3" height="7" fill="#000"/><rect x="51" y="165" width="1" height="10" fill="#000"/><rect x="50" y="165" width="3" height="4" fill="#000"/><rect x="54" y="169" width="1" height="5" fill="#000"/><rect x="53" y="169" width="3" height="4" fill="#000"/><rect x="58" y="160" width="1" height="13" fill="#000"/><rect x="57" y="163" width="3" height="10" fill="#000"/><rect x="58" y="164" width="1" height="8" fill="#cdd0db"/><rect x="61" y="160" width="1" height="8" fill="#000"/><rect x="60" y="163" width="3" height="1" fill="#000"/><rect x="64" y="160" width="1" height="6" fill="#000"/><rect x="63" y="163" width="3" height="1" fill="#000"/><rect x="67" y="156" width="1" height="14" fill="#000"/><rect x="66" y="162" width="3" height="8" fill="#000"/><rect x="70" y="166" width="1" height="8" fill="#000"/><rect x="69" y="168" width="3" height="2" fill="#000"/><rect x="74" y="158" width="1" height="11" fill="#000"/><rect x="73" y="163" width="3" height="6" fill="#000"/><rect x="74" y="164" width="1" height="4" fill="#cdd0db"/><rect x="77" y="154" width="1" height="17" fill="#000"/><rect x="76" y="155" width="3" height="8" fill="#000"/><rect x="77" y="156" width="1" height="6" fill="#cdd0db"/><rect x="80" y="144" width="1" height="13" fill="#000"/><rect x="79" y="155" width="3" height="2" fill="#000"/><rect x="83" y="149" width="1" height="15" fill="#000"/><rect x="82" y="153" width="3" height="3" fill="#000"/><rect x="83" y="154" width="1" height="1" fill="#cdd0db"/><rect x="86" y="135" width="1" height="19" fill="#000"/><rect x="85" y="136" width="3" height="18" fill="#000"/><rect x="86" y="137" width="1" height="16" fill="#cdd0db"/><rect x="90" y="126" width="1" height="11" fill="#000"/><rect x="89" y="132" width="3" height="4" fill="#000"/><rect x="90" y="133" width="1" height="2" fill="#cdd0db"/><rect x="93" y="131" width="1" height="7" fill="#000"/><rect x="92" y="132" width="3" height="3" fill="#000"/><rect x="96" y="128" width="1" height="8" fill="#000"/><rect x="95" y="134" width="3" height="1" fill="#000"/><rect x="99" y="130" width="1" height="8" fill="#000"/><rect x="98" y="133" width="3" height="3" fill="#000"/><rect x="103" y="133" width="1" height="7" fill="#000"/><rect x="102" y="134" width="3" height="4" fill="#000"/><rect x="106" y="133" width="1" height="7" fill="#000"/><rect x="105" y="134" width="3" height="5" fill="#000"/><rect x="106" y="135" width="1" height="3" fill="#cdd0db"/><rect x="109" y="120" width="1" height="14" fill="#000"/><rect x="108" y="126" width="3" height="8" fill="#000"/><rect x="109" y="127" width="1" height="6" fill="#cdd0db"/><rect x="112" y="118" width="1" height="9" fill="#000"/><rect x="111" y="122" width="3" height="4" fill="#000"/><rect x="112" y="123" width="1" height="2" fill="#cdd0db"/><rect x="115" y="117" width="1" height="8" fill="#000"/><rect x="114" y="122" width="3" height="2" fill="#000"/><rect x="119" y="121" width="1" height="9" fill="#000"/><rect x="118" y="124" width="3" height="5" fill="#000"/><rect x="122" y="124" width="1" height="6" fill="#000"/><rect x="121" y="125" width="3" height="4" fill="#000"/><rect x="122" y="126" width="1" height="2" fill="#cdd0db"/><rect x="125" y="114" width="1" height="14" fill="#000"/><rect x="124" y="118" width="3" height="7" fill="#000"/><rect x="125" y="119" width="1" height="5" fill="#cdd0db"/><rect x="128" y="110" width="1" height="22" fill="#000"/><rect x="127" y="111" width="3" height="7" fill="#000"/><rect x="128" y="112" width="1" height="5" fill="#cdd0db"/><rect x="131" y="90" width="1" height="21" fill="#000"/><rect x="130" y="92" width="3" height="19" fill="#000"/><rect x="131" y="93" width="1" height="17" fill="#cdd0db"/><rect x="135" y="91" width="1" height="13" fill="#000"/><rect x="134" y="92" width="3" height="11" fill="#000"/><rect x="138" y="99" width="1" height="12" fill="#000"/><rect x="137" y="103" width="3" height="7" fill="#000"/><rect x="141" y="102" width="1" height="12" fill="#000"/><rect x="140" y="103" width="3" height="7" fill="#000"/><rect x="141" y="104" width="1" height="5" fill="#cdd0db"/><rect x="144" y="99" width="1" height="14" fill="#000"/><rect x="143" y="103" width="3" height="3" fill="#000"/><rect x="148" y="96" width="1" height="10" fill="#000"/><rect x="147" y="97" width="3" height="8" fill="#000"/><rect x="148" y="98" width="1" height="6" fill="#cdd0db"/><rect x="151" y="95" width="1" height="17" fill="#000"/><rect x="150" y="96" width="3" height="12" fill="#000"/><rect x="154" y="103" width="1" height="8" fill="#000"/><rect x="153" y="106" width="3" height="4" fill="#000"/><rect x="154" y="107" width="1" height="2" fill="#cdd0db"/><rect x="157" y="106" width="1" height="16" fill="#000"/><rect x="156" y="107" width="3" height="8" fill="#000"/><rect x="160" y="108" width="1" height="13" fill="#000"/><rect x="159" y="115" width="3" height="3" fill="#000"/><rect x="164" y="109" width="1" height="16" fill="#000"/><rect x="163" y="115" width="3" height="2" fill="#000"/><rect x="167" y="113" width="1" height="20" fill="#000"/><rect x="166" y="114" width="3" height="14" fill="#000"/><rect x="170" y="120" width="1" height="8" fill="#000"/><rect x="169" y="125" width="3" height="3" fill="#000"/><rect x="170" y="126" width="1" height="1" fill="#cdd0db"/><rect x="173" y="120" width="1" height="9" fill="#000"/><rect x="172" y="122" width="3" height="2" fill="#000"/><rect x="176" y="119" width="1" height="8" fill="#000"/><rect x="175" y="121" width="3" height="1" fill="#000"/><rect x="180" y="110" width="1" height="11" fill="#000"/><rect x="179" y="112" width="3" height="9" fill="#000"/><rect x="180" y="113" width="1" height="7" fill="#cdd0db"/><rect x="183" y="99" width="1" height="13" fill="#000"/><rect x="182" y="110" width="3" height="2" fill="#000"/><rect x="186" y="98" width="1" height="15" fill="#000"/><rect x="185" y="109" width="3" height="3" fill="#000"/><rect x="186" y="110" width="1" height="1" fill="#cdd0db"/><rect x="189" y="104" width="1" height="12" fill="#000"/><rect x="188" y="110" width="3" height="1" fill="#000"/><rect x="192" y="106" width="1" height="31" fill="#000"/><rect x="191" y="110" width="3" height="22" fill="#000"/><rect x="196" y="124" width="1" height="11" fill="#000"/><rect x="195" y="132" width="3" height="2" fill="#000"/><rect x="199" y="130" width="1" height="10" fill="#000"/><rect x="198" y="134" width="3" height="2" fill="#000"/><rect x="202" y="128" width="1" height="15" fill="#000"/><rect x="201" y="132" width="3" height="4" fill="#000"/><rect x="202" y="133" width="1" height="2" fill="#cdd0db"/><rect x="205" y="126" width="1" height="15" fill="#000"/><rect x="204" y="130" width="3" height="7" fill="#000"/><rect x="209" y="124" width="1" height="20" fill="#000"/><rect x="208" y="128" width="3" height="9" fill="#000"/><rect x="209" y="129" width="1" height="7" fill="#cdd0db"/><rect x="212" y="113" width="1" height="15" fill="#000"/><rect x="211" y="116" width="3" height="12" fill="#000"/><rect x="212" y="117" width="1" height="10" fill="#cdd0db"/><rect x="215" y="112" width="1" height="4" fill="#000"/><rect x="214" y="115" width="3" height="1" fill="#000"/><rect x="218" y="105" width="1" height="10" fill="#000"/><rect x="217" y="108" width="3" height="7" fill="#000"/><rect x="218" y="109" width="1" height="5" fill="#cdd0db"/><rect x="221" y="91" width="1" height="19" fill="#000"/><rect x="220" y="100" width="3" height="9" fill="#000"/><rect x="221" y="101" width="1" height="7" fill="#cdd0db"/><rect x="225" y="97" width="1" height="5" fill="#000"/><rect x="224" y="99" width="3" height="1" fill="#000"/><rect x="228" y="94" width="1" height="5" fill="#000"/><rect x="227" y="96" width="3" height="2" fill="#000"/><rect x="231" y="93" width="1" height="7" fill="#000"/><rect x="230" y="97" width="3" height="1" fill="#000"/><rect x="234" y="88" width="1" height="9" fill="#000"/><rect x="233" y="88" width="3" height="9" fill="#000"/><rect x="234" y="89" width="1" height="7" fill="#cdd0db"/><rect x="237" y="85" width="1" height="6" fill="#000"/><rect x="236" y="88" width="3" height="1" fill="#000"/><rect x="241" y="82" width="1" height="17" fill="#000"/><rect x="240" y="89" width="3" height="8" fill="#000"/><rect x="244" y="94" width="1" height="11" fill="#000"/><rect x="243" y="97" width="3" height="3" fill="#000"/><rect x="247" y="86" width="1" height="24" fill="#000"/><rect x="246" y="94" width="3" height="6" fill="#000"/><rect x="247" y="95" width="1" height="4" fill="#cdd0db"/><rect x="250" y="86" width="1" height="11" fill="#000"/><rect x="249" y="92" width="3" height="2" fill="#000"/><rect x="254" y="91" width="1" height="9" fill="#000"/><rect x="253" y="92" width="3" height="2" fill="#000"/><rect x="257" y="90" width="1" height="6" fill="#000"/><rect x="256" y="91" width="3" height="5" fill="#000"/><rect x="257" y="92" width="1" height="3" fill="#cdd0db"/><rect x="260" y="86" width="1" height="9" fill="#000"/><rect x="259" y="91" width="3" height="2" fill="#000"/><rect x="263" y="88" width="1" height="6" fill="#000"/><rect x="262" y="91" width="3" height="3" fill="#000"/><rect x="263" y="92" width="1" height="1" fill="#cdd0db"/><rect x="266" y="89" width="1" height="7" fill="#000"/><rect x="265" y="91" width="3" height="1" fill="#000"/><rect x="270" y="67" width="1" height="24" fill="#000"/><rect x="269" y="71" width="3" height="20" fill="#000"/><rect x="270" y="72" width="1" height="18" fill="#cdd0db"/><rect x="273" y="67" width="1" height="10" fill="#000"/><rect x="272" y="70" width="3" height="1" fill="#000"/><rect x="276" y="70" width="1" height="5" fill="#000"/><rect x="275" y="71" width="3" height="4" fill="#000"/><rect x="279" y="69" width="1" height="21" fill="#000"/><rect x="278" y="74" width="3" height="11" fill="#000"/><rect x="282" y="84" width="1" height="8" fill="#000"/><rect x="281" y="84" width="3" height="1" fill="#000"/><rect x="286" y="85" width="1" height="15" fill="#000"/><rect x="285" y="85" width="3" height="13" fill="#000"/><rect x="289" y="94" width="1" height="12" fill="#000"/><rect x="288" y="97" width="3" height="1" fill="#000"/><rect x="292" y="91" width="1" height="10" fill="#000"/><rect x="291" y="97" width="3" height="1" fill="#000"/><rect x="295" y="96" width="1" height="8" fill="#000"/><rect x="294" y="98" width="3" height="5" fill="#000"/><rect x="298" y="97" width="1" height="10" fill="#000"/><rect x="297" y="100" width="3" height="1" fill="#000"/><rect x="302" y="101" width="1" height="13" fill="#000"/><rect x="301" y="102" width="3" height="9" fill="#000"/><rect x="305" y="106" width="1" height="10" fill="#000"/><rect x="304" y="108" width="3" height="2" fill="#000"/><rect x="308" y="101" width="1" height="8" fill="#000"/><rect x="307" y="103" width="3" height="4" fill="#000"/><rect x="308" y="104" width="1" height="2" fill="#cdd0db"/><rect x="311" y="90" width="1" height="20" fill="#000"/><rect x="310" y="96" width="3" height="6" fill="#000"/><rect x="311" y="97" width="1" height="4" fill="#cdd0db"/><rect x="315" y="92" width="1" height="9" fill="#000"/><rect x="314" y="96" width="3" height="5" fill="#000"/><rect x="318" y="93" width="1" height="11" fill="#000"/><rect x="317" y="101" width="3" height="3" fill="#000"/><rect x="321" y="97" width="1" height="21" fill="#000"/><rect x="320" y="104" width="3" height="11" fill="#000"/><rect x="324" y="113" width="1" height="16" fill="#000"/><rect x="323" y="114" width="3" height="15" fill="#000"/><rect x="327" y="124" width="1" height="13" fill="#000"/><rect x="326" y="128" width="3" height="8" fill="#000"/><rect x="331" y="133" width="1" height="9" fill="#000"/><rect x="330" y="136" width="3" height="1" fill="#000"/><rect x="334" y="132" width="1" height="5" fill="#000"/><rect x="333" y="133" width="3" height="4" fill="#000"/><rect x="334" y="134" width="1" height="2" fill="#cdd0db"/><rect x="337" y="128" width="1" height="28" fill="#000"/><rect x="336" y="133" width="3" height="20" fill="#000"/><rect x="340" y="152" width="1" height="15" fill="#000"/><rect x="339" y="152" width="3" height="1" fill="#000"/><rect x="343" y="137" width="1" height="19" fill="#000"/><rect x="342" y="140" width="3" height="13" fill="#000"/><rect x="343" y="141" width="1" height="11" fill="#cdd0db"/><rect x="347" y="134" width="1" height="21" fill="#000"/><rect x="346" y="140" width="3" height="9" fill="#000"/><rect x="350" y="146" width="1" height="16" fill="#000"/><rect x="349" y="149" width="3" height="7" fill="#000"/><rect x="353" y="146" width="1" height="12" fill="#000"/><rect x="352" y="149" width="3" height="7" fill="#000"/><rect x="353" y="150" width="1" height="5" fill="#cdd0db"/><rect x="356" y="140" width="1" height="40" fill="#000"/><rect x="355" y="149" width="3" height="20" fill="#000"/><rect x="360" y="167" width="1" height="21" fill="#000"/><rect x="359" y="169" width="3" height="16" fill="#000"/><rect x="363" y="174" width="1" height="14" fill="#000"/><rect x="362" y="181" width="3" height="3" fill="#000"/><rect x="363" y="182" width="1" height="1" fill="#cdd0db"/><rect x="366" y="177" width="1" height="15" fill="#000"/><rect x="365" y="179" width="3" height="1" fill="#000"/><rect x="369" y="178" width="1" height="6" fill="#000"/><rect x="368" y="178" width="3" height="6" fill="#000"/><rect x="372" y="181" width="1" height="11" fill="#000"/><rect x="371" y="182" width="3" height="1" fill="#000"/><rect x="376" y="178" width="1" height="20" fill="#000"/><rect x="375" y="181" width="3" height="17" fill="#000"/><rect x="379" y="196" width="1" height="19" fill="#000"/><rect x="378" y="198" width="3" height="17" fill="#000"/><rect x="382" y="205" width="1" height="10" fill="#000"/><rect x="381" y="210" width="3" height="5" fill="#000"/><rect x="382" y="211" width="1" height="3" fill="#cdd0db"/><rect x="385" y="199" width="1" height="12" fill="#000"/><rect x="384" y="205" width="3" height="4" fill="#000"/><rect x="385" y="206" width="1" height="2" fill="#cdd0db"/><rect x="388" y="203" width="1" height="10" fill="#000"/><rect x="387" y="204" width="3" height="9" fill="#000"/><rect x="392" y="203" width="1" height="13" fill="#000"/><rect x="391" y="207" width="3" height="6" fill="#000"/><rect x="392" y="208" width="1" height="4" fill="#cdd0db"/><rect x="395" y="201" width="1" height="28" fill="#000"/><rect x="394" y="206" width="3" height="23" fill="#000"/><rect x="398" y="207" width="1" height="33" fill="#000"/><rect x="397" y="211" width="3" height="18" fill="#000"/><rect x="398" y="212" width="1" height="16" fill="#cdd0db"/><rect x="401" y="205" width="1" height="17" fill="#000"/><rect x="400" y="210" width="3" height="11" fill="#000"/><rect x="405" y="216" width="1" height="50" fill="#000"/><rect x="404" y="218" width="3" height="36" fill="#000"/><rect x="408" y="253" width="1" height="46" fill="#000"/><rect x="407" y="254" width="3" height="10" fill="#000"/><rect x="411" y="260" width="1" height="39" fill="#000"/><rect x="410" y="260" width="3" height="23" fill="#000"/><rect x="414" y="237" width="1" height="61" fill="#000"/><rect x="413" y="242" width="3" height="41" fill="#000"/><rect x="414" y="243" width="1" height="39" fill="#cdd0db"/><rect x="417" y="228" width="1" height="24" fill="#000"/><rect x="416" y="242" width="3" height="5" fill="#000"/><rect x="421" y="228" width="1" height="18" fill="#000"/><rect x="420" y="228" width="3" height="17" fill="#000"/><rect x="421" y="229" width="1" height="15" fill="#cdd0db"/><rect x="424" y="218" width="1" height="27" fill="#000"/><rect x="423" y="220" width="3" height="24" fill="#000"/><rect x="424" y="221" width="1" height="22" fill="#cdd0db"/><rect x="427" y="205" width="1" height="17" fill="#000"/><rect x="426" y="210" width="3" height="10" fill="#000"/><rect x="427" y="211" width="1" height="8" fill="#cdd0db"/><rect x="430" y="199" width="1" height="25" fill="#000"/><rect x="429" y="210" width="3" height="8" fill="#000"/><rect x="433" y="198" width="1" height="29" fill="#000"/><rect x="432" y="199" width="3" height="19" fill="#000"/><rect x="433" y="200" width="1" height="17" fill="#cdd0db"/><rect x="437" y="192" width="1" height="12" fill="#000"/><rect x="436" y="198" width="3" height="2" fill="#000"/><rect x="440" y="189" width="1" height="18" fill="#000"/><rect x="439" y="199" width="3" height="5" fill="#000"/><rect x="443" y="183" width="1" height="25" fill="#000"/><rect x="442" y="183" width="3" height="20" fill="#000"/><rect x="443" y="184" width="1" height="18" fill="#cdd0db"/><rect x="446" y="174" width="1" height="14" fill="#000"/><rect x="445" y="182" width="3" height="1" fill="#000"/><rect x="449" y="174" width="1" height="12" fill="#000"/><rect x="448" y="182" width="3" height="3" fill="#000"/><rect x="453" y="175" width="1" height="22" fill="#000"/><rect x="452" y="183" width="3" height="10" fill="#000"/><rect x="456" y="190" width="1" height="18" fill="#000"/><rect x="455" y="193" width="3" height="15" fill="#000"/><rect x="459" y="195" width="1" height="15" fill="#000"/><rect x="458" y="202" width="3" height="5" fill="#000"/><rect x="459" y="203" width="1" height="3" fill="#cdd0db"/><rect x="462" y="170" width="1" height="42" fill="#000"/><rect x="461" y="180" width="3" height="22" fill="#000"/><rect x="462" y="181" width="1" height="20" fill="#cdd0db"/><rect x="466" y="174" width="1" height="9" fill="#000"/><rect x="465" y="178" width="3" height="2" fill="#000"/><rect x="469" y="172" width="1" height="8" fill="#000"/><rect x="468" y="177" width="3" height="2" fill="#000"/><rect x="472" y="158" width="1" height="22" fill="#000"/><rect x="471" y="158" width="3" height="18" fill="#000"/><rect x="472" y="159" width="1" height="16" fill="#cdd0db"/><rect x="475" y="152" width="1" height="13" fill="#000"/><rect x="474" y="158" width="3" height="1" fill="#000"/><rect x="478" y="151" width="1" height="21" fill="#000"/><rect x="477" y="151" width="3" height="21" fill="#000"/><rect x="478" y="152" width="1" height="19" fill="#cdd0db"/><rect x="482" y="151" width="1" height="13" fill="#000"/><rect x="481" y="151" width="3" height="12" fill="#000"/><rect x="485" y="162" width="1" height="10" fill="#000"/><rect x="484" y="163" width="3" height="3" fill="#000"/><rect x="488" y="161" width="1" height="11" fill="#000"/><rect x="487" y="166" width="3" height="3" fill="#000"/><rect x="491" y="167" width="1" height="18" fill="#000"/><rect x="490" y="169" width="3" height="16" fill="#000"/><rect x="494" y="176" width="1" height="9" fill="#000"/><rect x="493" y="178" width="3" height="7" fill="#000"/><rect x="494" y="179" width="1" height="5" fill="#cdd0db"/><rect x="498" y="167" width="1" height="16" fill="#000"/><rect x="497" y="170" width="3" height="8" fill="#000"/><rect x="498" y="171" width="1" height="6" fill="#cdd0db"/><rect x="501" y="164" width="1" height="14" fill="#000"/><rect x="500" y="170" width="3" height="7" fill="#000"/><rect x="504" y="173" width="1" height="8" fill="#000"/><rect x="503" y="174" width="3" height="2" fill="#000"/><rect x="507" y="171" width="1" height="6" fill="#000"/><rect x="506" y="174" width="3" height="1" fill="#000"/><rect x="511" y="173" width="1" height="6" fill="#000"/><rect x="510" y="174" width="3" height="2" fill="#000"/><rect x="514" y="173" width="1" height="6" fill="#000"/><rect x="513" y="176" width="3" height="1" fill="#000"/><rect x="517" y="173" width="1" height="5" fill="#000"/><rect x="516" y="175" width="3" height="2" fill="#000"/><rect x="520" y="168" width="1" height="9" fill="#000"/><rect x="519" y="173" width="3" height="4" fill="#000"/><rect x="520" y="174" width="1" height="2" fill="#cdd0db"/><rect x="523" y="170" width="1" height="3" fill="#000"/><rect x="522" y="170" width="3" height="2" fill="#000"/><rect x="527" y="166" width="1" height="12" fill="#000"/><rect x="526" y="170" width="3" height="8" fill="#000"/><rect x="530" y="177" width="1" height="15" fill="#000"/><rect x="529" y="178" width="3" height="14" fill="#000"/><rect x="533" y="189" width="1" height="11" fill="#000"/><rect x="532" y="192" width="3" height="8" fill="#000"/><rect x="536" y="199" width="1" height="12" fill="#000"/><rect x="535" y="200" width="3" height="11" fill="#000"/><rect x="539" y="202" width="1" height="9" fill="#000"/><rect x="538" y="206" width="3" height="5" fill="#000"/><rect x="539" y="207" width="1" height="3" fill="#cdd0db"/><rect x="543" y="197" width="1" height="12" fill="#000"/><rect x="542" y="200" width="3" height="6" fill="#000"/><rect x="543" y="201" width="1" height="4" fill="#cdd0db"/><rect x="546" y="186" width="1" height="20" fill="#000"/><rect x="545" y="187" width="3" height="13" fill="#000"/><rect x="546" y="188" width="1" height="11" fill="#cdd0db"/><rect x="549" y="186" width="1" height="21" fill="#000"/><rect x="548" y="187" width="3" height="9" fill="#000"/><rect x="552" y="193" width="1" height="15" fill="#000"/><rect x="551" y="194" width="3" height="13" fill="#000"/><rect x="556" y="195" width="1" height="15" fill="#000"/><rect x="555" y="199" width="3" height="8" fill="#000"/><rect x="556" y="200" width="1" height="6" fill="#cdd0db"/><rect x="559" y="195" width="1" height="13" fill="#000"/><rect x="558" y="199" width="3" height="8" fill="#000"/><rect x="562" y="196" width="1" height="11" fill="#000"/><rect x="561" y="200" width="3" height="6" fill="#000"/><rect x="562" y="201" width="1" height="4" fill="#cdd0db"/><rect x="565" y="198" width="1" height="9" fill="#000"/><rect x="564" y="199" width="3" height="1" fill="#000"/><rect x="568" y="194" width="1" height="9" fill="#000"/><rect x="567" y="199" width="3" height="1" fill="#000"/><rect x="572" y="188" width="1" height="13" fill="#000"/><rect x="571" y="198" width="3" height="1" fill="#000"/><rect x="575" y="195" width="1" height="6" fill="#000"/><rect x="574" y="198" width="3" height="1" fill="#000"/><rect x="578" y="196" width="1" height="10" fill="#000"/><rect x="577" y="198" width="3" height="7" fill="#000"/><rect x="581" y="199" width="1" height="5" fill="#000"/><rect x="580" y="200" width="3" height="1" fill="#000"/><rect x="584" y="191" width="1" height="10" fill="#000"/><rect x="583" y="193" width="3" height="8" fill="#000"/><rect x="584" y="194" width="1" height="6" fill="#cdd0db"/><rect x="588" y="182" width="1" height="21" fill="#000"/><rect x="587" y="193" width="3" height="4" fill="#000"/><rect x="591" y="197" width="1" height="7" fill="#000"/><rect x="590" y="197" width="3" height="7" fill="#000"/><rect x="594" y="203" width="1" height="5" fill="#000"/><rect x="593" y="204" width="3" height="1" fill="#000"/><rect x="597" y="201" width="1" height="5" fill="#000"/><rect x="596" y="203" width="3" height="2" fill="#000"/><rect x="600" y="202" width="1" height="10" fill="#000"/><rect x="599" y="203" width="3" height="7" fill="#000"/><rect x="604" y="206" width="1" height="6" fill="#000"/><rect x="603" y="208" width="3" height="2" fill="#000"/><rect x="607" y="197" width="1" height="12" fill="#000"/><rect x="606" y="199" width="3" height="9" fill="#000"/><rect x="607" y="200" width="1" height="7" fill="#cdd0db"/><rect x="610" y="194" width="1" height="28" fill="#000"/><rect x="609" y="199" width="3" height="18" fill="#000"/><rect x="613" y="202" width="1" height="17" fill="#000"/><rect x="612" y="210" width="3" height="7" fill="#000"/><rect x="613" y="211" width="1" height="5" fill="#cdd0db"/><rect x="617" y="203" width="1" height="10" fill="#000"/><rect x="616" y="209" width="3" height="1" fill="#000"/><rect x="620" y="202" width="1" height="8" fill="#000"/><rect x="619" y="203" width="3" height="7" fill="#000"/><rect x="620" y="204" width="1" height="5" fill="#cdd0db"/><rect x="623" y="202" width="1" height="8" fill="#000"/><rect x="622" y="203" width="3" height="7" fill="#000"/><rect x="626" y="208" width="1" height="18" fill="#000"/><rect x="625" y="210" width="3" height="13" fill="#000"/><rect x="629" y="213" width="1" height="14" fill="#000"/><rect x="628" y="214" width="3" height="9" fill="#000"/><rect x="629" y="215" width="1" height="7" fill="#cdd0db"/><rect x="633" y="210" width="1" height="9" fill="#000"/><rect x="632" y="214" width="3" height="4" fill="#000"/><rect x="636" y="215" width="1" height="7" fill="#000"/><rect x="635" y="217" width="3" height="1" fill="#000"/><rect x="639" y="217" width="1" height="3" fill="#000"/><rect x="638" y="217" width="3" height="2" fill="#000"/><rect x="642" y="216" width="1" height="5" fill="#000"/><rect x="641" y="217" width="3" height="1" fill="#000"/><rect x="645" y="211" width="1" height="8" fill="#000"/><rect x="644" y="216" width="3" height="2" fill="#000"/><rect x="649" y="212" width="1" height="4" fill="#000"/><rect x="648" y="214" width="3" height="1" fill="#000"/><rect x="652" y="210" width="1" height="4" fill="#000"/><rect x="651" y="211" width="3" height="1" fill="#000"/><rect x="655" y="206" width="1" height="6" fill="#000"/><rect x="654" y="210" width="3" height="2" fill="#000"/><rect x="658" y="210" width="1" height="4" fill="#000"/><rect x="657" y="211" width="3" height="1" fill="#000"/><rect x="662" y="195" width="1" height="16" fill="#000"/><rect x="661" y="204" width="3" height="7" fill="#000"/><rect x="662" y="205" width="1" height="5" fill="#cdd0db"/><rect x="665" y="197" width="1" height="7" fill="#000"/><rect x="664" y="201" width="3" height="3" fill="#000"/><rect x="665" y="202" width="1" height="1" fill="#cdd0db"/><rect x="668" y="197" width="1" height="6" fill="#000"/><rect x="667" y="198" width="3" height="3" fill="#000"/><rect x="668" y="199" width="1" height="1" fill="#cdd0db"/><rect x="671" y="196" width="1" height="14" fill="#000"/><rect x="670" y="198" width="3" height="12" fill="#000"/><rect x="674" y="206" width="1" height="4" fill="#000"/><rect x="673" y="208" width="3" height="1" fill="#000"/><rect x="678" y="206" width="1" height="4" fill="#000"/><rect x="677" y="208" width="3" height="1" fill="#000"/><rect x="681" y="207" width="1" height="8" fill="#000"/><rect x="680" y="208" width="3" height="1" fill="#000"/><rect x="684" y="203" width="1" height="7" fill="#000"/><rect x="683" y="206" width="3" height="3" fill="#000"/><rect x="684" y="207" width="1" height="1" fill="#cdd0db"/><rect x="687" y="198" width="1" height="10" fill="#000"/><rect x="686" y="205" width="3" height="3" fill="#000"/><rect x="690" y="203" width="1" height="5" fill="#000"/><rect x="689" y="204" width="3" height="3" fill="#000"/><rect x="690" y="205" width="1" height="1" fill="#cdd0db"/><rect x="694" y="194" width="1" height="12" fill="#000"/><rect x="693" y="201" width="3" height="4" fill="#000"/><rect x="694" y="202" width="1" height="2" fill="#cdd0db"/><rect x="697" y="191" width="1" height="10" fill="#000"/><rect x="696" y="196" width="3" height="4" fill="#000"/><rect x="697" y="197" width="1" height="2" fill="#cdd0db"/><rect x="700" y="194" width="1" height="7" fill="#000"/><rect x="699" y="195" width="3" height="6" fill="#000"/><rect x="703" y="198" width="1" height="15" fill="#000"/><rect x="702" y="201" width="3" height="10" fill="#000"/><rect x="706" y="204" width="1" height="6" fill="#000"/><rect x="705" y="204" width="3" height="6" fill="#000"/><rect x="706" y="205" width="1" height="4" fill="#cdd0db"/><rect x="710" y="203" width="1" height="7" fill="#000"/><rect x="709" y="205" width="3" height="4" fill="#000"/><rect x="713" y="207" width="1" height="4" fill="#000"/><rect x="712" y="208" width="3" height="2" fill="#000"/><rect x="716" y="205" width="1" height="4" fill="#000"/><rect x="715" y="208" width="3" height="1" fill="#000"/><rect x="719" y="206" width="1" height="6" fill="#000"/><rect x="718" y="207" width="3" height="5" fill="#000"/><rect x="723" y="209" width="1" height="10" fill="#000"/><rect x="722" y="209" width="3" height="6" fill="#000"/><rect x="726" y="207" width="1" height="10" fill="#000"/><rect x="725" y="207" width="3" height="9" fill="#000"/><rect x="726" y="208" width="1" height="7" fill="#cdd0db"/><rect x="729" y="203" width="1" height="8" fill="#000"/><rect x="728" y="206" width="3" height="2" fill="#000"/><rect x="732" y="206" width="1" height="8" fill="#000"/><rect x="731" y="208" width="3" height="3" fill="#000"/><rect x="735" y="205" width="1" height="7" fill="#000"/><rect x="734" y="206" width="3" height="5" fill="#000"/><rect x="735" y="207" width="1" height="3" fill="#cdd0db"/><rect x="739" y="202" width="1" height="5" fill="#000"/><rect x="738" y="203" width="3" height="3" fill="#000"/><rect x="739" y="204" width="1" height="1" fill="#cdd0db"/><rect x="742" y="202" width="1" height="7" fill="#000"/><rect x="741" y="203" width="3" height="6" fill="#000"/><rect x="745" y="207" width="1" height="1" fill="#000"/><rect x="744" y="207" width="3" height="1" fill="#000"/><rect x="748" y="206" width="1" height="2" fill="#000"/><rect x="747" y="207" width="3" height="1" fill="#000"/><rect x="751" y="200" width="1" height="8" fill="#000"/><rect x="750" y="203" width="3" height="4" fill="#000"/><rect x="751" y="204" width="1" height="2" fill="#cdd0db"/><rect x="755" y="199" width="1" height="5" fill="#000"/><rect x="754" y="202" width="3" height="1" fill="#000"/><rect x="758" y="200" width="1" height="7" fill="#000"/><rect x="757" y="201" width="3" height="5" fill="#000"/><rect x="761" y="196" width="1" height="12" fill="#000"/><rect x="760" y="204" width="3" height="3" fill="#000"/><rect x="761" y="205" width="1" height="1" fill="#cdd0db"/><rect x="764" y="187" width="1" height="16" fill="#000"/><rect x="763" y="189" width="3" height="14" fill="#000"/><rect x="764" y="190" width="1" height="12" fill="#cdd0db"/><rect x="768" y="177" width="1" height="12" fill="#000"/><rect x="767" y="180" width="3" height="9" fill="#000"/><rect x="768" y="181" width="1" height="7" fill="#cdd0db"/><rect x="771" y="175" width="1" height="6" fill="#000"/><rect x="770" y="179" width="3" height="1" fill="#000"/><rect x="774" y="173" width="1" height="7" fill="#000"/><rect x="773" y="176" width="3" height="3" fill="#000"/><rect x="774" y="177" width="1" height="1" fill="#cdd0db"/><rect x="777" y="164" width="1" height="11" fill="#000"/><rect x="776" y="167" width="3" height="8" fill="#000"/><rect x="777" y="168" width="1" height="6" fill="#cdd0db"/><rect x="780" y="162" width="1" height="6" fill="#000"/><rect x="779" y="162" width="3" height="6" fill="#000"/><rect x="780" y="163" width="1" height="4" fill="#cdd0db"/><rect x="784" y="154" width="1" height="8" fill="#000"/><rect x="783" y="160" width="3" height="2" fill="#000"/><rect x="787" y="157" width="1" height="10" fill="#000"/><rect x="786" y="158" width="3" height="2" fill="#000"/><rect x="790" y="158" width="1" height="9" fill="#000"/><rect x="789" y="158" width="3" height="8" fill="#000"/><rect x="793" y="164" width="1" height="8" fill="#000"/><rect x="792" y="165" width="3" height="7" fill="#000"/><rect x="796" y="165" width="1" height="7" fill="#000"/><rect x="795" y="167" width="3" height="4" fill="#000"/><rect x="796" y="168" width="1" height="2" fill="#cdd0db"/><rect x="800" y="160" width="1" height="8" fill="#000"/><rect x="799" y="164" width="3" height="4" fill="#000"/><rect x="800" y="165" width="1" height="2" fill="#cdd0db"/><rect x="803" y="159" width="1" height="5" fill="#000"/><rect x="802" y="161" width="3" height="1" fill="#000"/><rect x="806" y="155" width="1" height="10" fill="#000"/><rect x="805" y="161" width="3" height="1" fill="#000"/><rect x="809" y="160" width="1" height="6" fill="#000"/><rect x="808" y="161" width="3" height="3" fill="#000"/><rect x="809" y="162" width="1" height="1" fill="#cdd0db"/><rect x="812" y="157" width="1" height="7" fill="#000"/><rect x="811" y="160" width="3" height="4" fill="#000"/><rect x="816" y="155" width="1" height="9" fill="#000"/><rect x="815" y="160" width="3" height="4" fill="#000"/><rect x="816" y="161" width="1" height="2" fill="#cdd0db"/><rect x="819" y="155" width="1" height="16" fill="#000"/><rect x="818" y="159" width="3" height="8" fill="#000"/><rect x="822" y="162" width="1" height="10" fill="#000"/><rect x="821" y="166" width="3" height="1" fill="#000"/><rect x="825" y="163" width="1" height="7" fill="#000"/><rect x="824" y="166" width="3" height="2" fill="#000"/><rect x="829" y="163" width="1" height="5" fill="#000"/><rect x="828" y="164" width="3" height="4" fill="#000"/><rect x="829" y="165" width="1" height="2" fill="#cdd0db"/><rect x="832" y="161" width="1" height="6" fill="#000"/><rect x="831" y="164" width="3" height="3" fill="#000"/><rect x="835" y="166" width="1" height="12" fill="#000"/><rect x="834" y="166" width="3" height="10" fill="#000"/><rect x="838" y="172" width="1" height="8" fill="#000"/><rect x="837" y="175" width="3" height="3" fill="#000"/><rect x="841" y="172" width="1" height="6" fill="#000"/><rect x="840" y="175" width="3" height="3" fill="#000"/><rect x="841" y="176" width="1" height="1" fill="#cdd0db"/><rect x="845" y="174" width="1" height="28" fill="#000"/><rect x="844" y="174" width="3" height="23" fill="#000"/><rect x="848" y="193" width="1" height="7" fill="#000"/><rect x="847" y="194" width="3" height="3" fill="#000"/><rect x="848" y="195" width="1" height="1" fill="#cdd0db"/><rect x="851" y="190" width="1" height="16" fill="#000"/><rect x="850" y="193" width="3" height="13" fill="#000"/><rect x="854" y="193" width="1" height="15" fill="#000"/><rect x="853" y="196" width="3" height="10" fill="#000"/><rect x="854" y="197" width="1" height="8" fill="#cdd0db"/><rect x="857" y="192" width="1" height="14" fill="#000"/><rect x="856" y="196" width="3" height="10" fill="#000"/><rect x="861" y="200" width="1" height="14" fill="#000"/><rect x="860" y="204" width="3" height="1" fill="#000"/><rect x="864" y="198" width="1" height="13" fill="#000"/><rect x="863" y="204" width="3" height="1" fill="#000"/><rect x="867" y="202" width="1" height="5" fill="#000"/><rect x="866" y="205" width="3" height="2" fill="#000"/><rect x="870" y="203" width="1" height="3" fill="#000"/><rect x="869" y="204" width="3" height="2" fill="#000"/><rect x="874" y="198" width="1" height="6" fill="#000"/><rect x="873" y="199" width="3" height="5" fill="#000"/><rect x="874" y="200" width="1" height="3" fill="#cdd0db"/><rect x="877" y="195" width="1" height="8" fill="#000"/><rect x="876" y="197" width="3" height="4" fill="#000"/><rect x="877" y="198" width="1" height="2" fill="#cdd0db"/><rect x="880" y="197" width="1" height="23" fill="#000"/><rect x="879" y="197" width="3" height="19" fill="#000"/><rect x="883" y="212" width="1" height="9" fill="#000"/><rect x="882" y="215" width="3" height="1" fill="#000"/><rect x="886" y="213" width="1" height="7" fill="#000"/><rect x="885" y="216" width="3" height="4" fill="#000"/><rect x="890" y="216" width="1" height="7" fill="#000"/><rect x="889" y="218" width="3" height="1" fill="#000"/><rect x="893" y="215" width="1" height="5" fill="#000"/><rect x="892" y="218" width="3" height="2" fill="#000"/><rect x="896" y="214" width="1" height="23" fill="#000"/><rect x="895" y="219" width="3" height="16" fill="#000"/><rect x="899" y="222" width="1" height="15" fill="#000"/><rect x="898" y="228" width="3" height="7" fill="#000"/><rect x="899" y="229" width="1" height="5" fill="#cdd0db"/><rect x="902" y="220" width="1" height="8" fill="#000"/><rect x="901" y="221" width="3" height="6" fill="#000"/><rect x="902" y="222" width="1" height="4" fill="#cdd0db"/><rect x="906" y="218" width="1" height="5" fill="#000"/><rect x="905" y="220" width="3" height="1" fill="#000"/><rect x="909" y="219" width="1" height="4" fill="#000"/><rect x="908" y="221" width="3" height="1" fill="#000"/><rect x="912" y="222" width="1" height="5" fill="#000"/><rect x="911" y="222" width="3" height="2" fill="#000"/><rect x="915" y="223" width="1" height="4" fill="#000"/><rect x="914" y="224" width="3" height="1" fill="#000"/><rect x="919" y="224" width="1" height="7" fill="#000"/><rect x="918" y="225" width="3" height="6" fill="#000"/><rect x="922" y="227" width="1" height="4" fill="#000"/><rect x="921" y="228" width="3" height="2" fill="#000"/><rect x="925" y="229" width="1" height="6" fill="#000"/><rect x="924" y="230" width="3" height="3" fill="#000"/><rect x="928" y="232" width="1" height="8" fill="#000"/><rect x="927" y="232" width="3" height="4" fill="#000"/><rect x="931" y="236" width="1" height="6" fill="#000"/><rect x="930" y="236" width="3" height="2" fill="#000"/><rect x="935" y="230" width="1" height="14" fill="#000"/><rect x="934" y="233" width="3" height="5" fill="#000"/><rect x="935" y="234" width="1" height="3" fill="#cdd0db"/><rect x="938" y="227" width="1" height="10" fill="#000"/><rect x="937" y="229" width="3" height="4" fill="#000"/><rect x="938" y="230" width="1" height="2" fill="#cdd0db"/><rect x="941" y="226" width="1" height="23" fill="#000"/><rect x="940" y="229" width="3" height="20" fill="#000"/><rect x="944" y="243" width="1" height="6" fill="#000"/><rect x="943" y="244" width="3" height="4" fill="#000"/><rect x="944" y="245" width="1" height="2" fill="#cdd0db"/><rect x="947" y="242" width="1" height="9" fill="#000"/><rect x="946" y="244" width="3" height="7" fill="#000"/><rect x="951" y="235" width="1" height="16" fill="#000"/><rect x="950" y="238" width="3" height="13" fill="#000"/><rect x="951" y="239" width="1" height="11" fill="#cdd0db"/><rect x="954" y="235" width="1" height="8" fill="#000"/><rect x="953" y="236" width="3" height="2" fill="#000"/><rect x="957" y="234" width="1" height="4" fill="#000"/><rect x="956" y="235" width="3" height="3" fill="#000"/><rect x="957" y="236" width="1" height="1" fill="#cdd0db"/><rect x="960" y="229" width="1" height="7" fill="#000"/><rect x="959" y="230" width="3" height="5" fill="#000"/><rect x="960" y="231" width="1" height="3" fill="#cdd0db"/><rect x="963" y="221" width="1" height="9" fill="#000"/><rect x="962" y="229" width="3" height="1" fill="#000"/><rect x="967" y="227" width="1" height="6" fill="#000"/><rect x="966" y="228" width="3" height="3" fill="#000"/><rect x="970" y="229" width="1" height="6" fill="#000"/><rect x="969" y="231" width="3" height="1" fill="#000"/><rect x="973" y="229" width="1" height="15" fill="#000"/><rect x="972" y="231" width="3" height="13" fill="#000"/><rect x="976" y="238" width="1" height="6" fill="#000"/><rect x="975" y="242" width="3" height="2" fill="#000"/><rect x="980" y="240" width="1" height="10" fill="#000"/><rect x="979" y="242" width="3" height="8" fill="#000"/><rect x="983" y="248" width="1" height="16" fill="#000"/><rect x="982" y="250" width="3" height="1" fill="#000"/><rect x="986" y="240" width="1" height="12" fill="#000"/><rect x="985" y="244" width="3" height="6" fill="#000"/><rect x="986" y="245" width="1" height="4" fill="#cdd0db"/><rect x="989" y="242" width="1" height="7" fill="#000"/><rect x="988" y="243" width="3" height="5" fill="#000"/><rect x="992" y="233" width="1" height="15" fill="#000"/><rect x="991" y="234" width="3" height="14" fill="#000"/><rect x="992" y="235" width="1" height="12" fill="#cdd0db"/><rect x="996" y="230" width="1" height="5" fill="#000"/><rect x="995" y="233" width="3" height="2" fill="#000"/><rect x="999" y="231" width="1" height="5" fill="#000"/><rect x="998" y="234" width="3" height="1" fill="#000"/><rect x="1002" y="232" width="1" height="8" fill="#000"/><rect x="1001" y="233" width="3" height="7" fill="#000"/><rect x="1005" y="233" width="1" height="7" fill="#000"/><rect x="1004" y="235" width="3" height="5" fill="#000"/><rect x="1005" y="236" width="1" height="3" fill="#cdd0db"/><rect x="1008" y="234" width="1" height="4" fill="#000"/><rect x="1007" y="235" width="3" height="1" fill="#000"/><rect x="1012" y="228" width="1" height="14" fill="#000"/><rect x="1011" y="236" width="3" height="6" fill="#000"/><rect x="1015" y="240" width="1" height="8" fill="#000"/><rect x="1014" y="242" width="3" height="6" fill="#000"/><rect x="1018" y="244" width="1" height="4" fill="#000"/><rect x="1017" y="245" width="3" height="3" fill="#000"/><rect x="1018" y="246" width="1" height="1" fill="#cdd0db"/><rect x="1021" y="239" width="1" height="7" fill="#000"/><rect x="1020" y="242" width="3" height="4" fill="#000"/><rect x="1021" y="243" width="1" height="2" fill="#cdd0db"/><rect x="1025" y="240" width="1" height="10" fill="#000"/><rect x="1024" y="243" width="3" height="7" fill="#000"/><rect x="1028" y="242" width="1" height="7" fill="#000"/><rect x="1027" y="244" width="3" height="5" fill="#000"/><rect x="1028" y="245" width="1" height="3" fill="#cdd0db"/><rect x="1031" y="232" width="1" height="19" fill="#000"/><rect x="1030" y="243" width="3" height="6" fill="#000"/><rect x="1034" y="248" width="1" height="13" fill="#000"/><rect x="1033" y="249" width="3" height="9" fill="#000"/><rect x="1037" y="255" width="1" height="16" fill="#000"/><rect x="1036" y="257" width="3" height="1" fill="#000"/><rect x="1041" y="255" width="1" height="5" fill="#000"/><rect x="1040" y="257" width="3" height="1" fill="#000"/><rect x="1044" y="248" width="1" height="10" fill="#000"/><rect x="1043" y="250" width="3" height="7" fill="#000"/><rect x="1044" y="251" width="1" height="5" fill="#cdd0db"/><rect x="1047" y="250" width="1" height="3" fill="#000"/><rect x="1046" y="250" width="3" height="2" fill="#000"/><rect x="1050" y="245" width="1" height="7" fill="#000"/><rect x="1049" y="247" width="3" height="5" fill="#000"/><rect x="1050" y="248" width="1" height="3" fill="#cdd0db"/><rect x="1053" y="246" width="1" height="8" fill="#000"/><rect x="1052" y="247" width="3" height="1" fill="#000"/><rect x="1057" y="248" width="1" height="4" fill="#000"/><rect x="1056" y="248" width="3" height="2" fill="#000"/><rect x="1060" y="248" width="1" height="3" fill="#000"/><rect x="1059" y="249" width="3" height="1" fill="#000"/><rect x="1063" y="243" width="1" height="5" fill="#000"/><rect x="1062" y="246" width="3" height="2" fill="#000"/><rect x="1066" y="241" width="1" height="5" fill="#000"/><rect x="1065" y="244" width="3" height="2" fill="#000"/><rect x="1070" y="243" width="1" height="10" fill="#000"/><rect x="1069" y="244" width="3" height="9" fill="#000"/><rect x="1073" y="246" width="1" height="7" fill="#000"/><rect x="1072" y="248" width="3" height="5" fill="#000"/><rect x="1073" y="249" width="1" height="3" fill="#cdd0db"/><rect x="1076" y="239" width="1" height="8" fill="#000"/><rect x="1075" y="242" width="3" height="5" fill="#000"/><rect x="1076" y="243" width="1" height="3" fill="#cdd0db"/><rect x="1079" y="242" width="1" height="6" fill="#000"/><rect x="1078" y="242" width="3" height="6" fill="#000"/><rect x="1082" y="246" width="1" height="3" fill="#000"/><rect x="1081" y="246" width="3" height="1" fill="#000"/><rect x="1086" y="242" width="1" height="5" fill="#000"/><rect x="1085" y="245" width="3" height="1" fill="#000"/><rect x="1089" y="243" width="1" height="8" fill="#000"/><rect x="1088" y="244" width="3" height="4" fill="#000"/><rect x="1092" y="230" width="1" height="18" fill="#000"/><rect x="1091" y="230" width="3" height="18" fill="#000"/><rect x="1092" y="231" width="1" height="16" fill="#cdd0db"/><rect x="1095" y="224" width="1" height="9" fill="#000"/><rect x="1094" y="227" width="3" height="1" fill="#000"/><rect x="1098" y="228" width="1" height="8" fill="#000"/><rect x="1097" y="229" width="3" height="6" fill="#000"/><rect x="1102" y="230" width="1" height="7" fill="#000"/><rect x="1101" y="231" width="3" height="5" fill="#000"/><rect x="1102" y="232" width="1" height="3" fill="#cdd0db"/><rect x="1105" y="225" width="1" height="7" fill="#000"/><rect x="1104" y="227" width="3" height="1" fill="#000"/><rect x="1108" y="226" width="1" height="8" fill="#000"/><rect x="1107" y="229" width="3" height="4" fill="#000"/><rect x="1111" y="221" width="1" height="12" fill="#000"/><rect x="1110" y="226" width="3" height="6" fill="#000"/><rect x="1111" y="227" width="1" height="4" fill="#cdd0db"/><rect x="1114" y="224" width="1" height="4" fill="#000"/><rect x="1113" y="225" width="3" height="2" fill="#000"/><rect x="1118" y="227" width="1" height="1" fill="#000"/><rect x="1117" y="227" width="3" height="1" fill="#000"/></g>
<line x1="11" y1="331.5" x2="1205" y2="331.5" stroke="#787b86" stroke-width="1" stroke-dasharray="5 5"/>
<line x1="11" y1="354.5" x2="1205" y2="354.5" stroke="#9598a1" stroke-width="1" stroke-dasharray="5 5"/>
<line x1="11" y1="376.5" x2="1205" y2="376.5" stroke="#787b86" stroke-width="1" stroke-dasharray="5 5"/>
<defs><clipPath id="ob"><rect x="11" y="300" width="1194" height="31.4"/></clipPath><clipPath id="os"><rect x="11" y="376.4" width="1194" height="20"/></clipPath></defs>
<polygon points="10,331.4 10,328.3 16,320.1 19.5,325.7 22.9,336.9 26.3,332.6 29.8,327.5 33.2,329.2 37.5,330 41.8,331.8 45.2,331.8 47.8,339.5 54.7,348.1 58.1,341.6 63.3,340.9 68.4,348.9 71,347.2 77,338.1 80.4,339.5 83.9,336.9 86.5,330.9 89.9,326.6 94.2,330 97.6,330 103.6,334.3 108.8,327.5 112.2,326.6 116.5,329.2 119.1,334.3 124.3,329.2 129.4,324.9 132.3,319.2 135.4,329.2 138,336.1 141.4,333.5 144.9,334.7 147.5,332.3 150.9,340.4 154.3,341.6 156.9,347.2 161.2,348.4 163.8,347.2 167.2,355.8 170.7,354.1 176.7,351.9 180.1,344.6 185.3,343.8 189.6,344.3 193,361 199,364.4 202.4,360.1 205.9,364.4 211.9,348.1 216.2,345.5 222.2,338.6 227.4,336.9 230,337.4 235.2,333 237.7,334.3 242,343.8 246.3,340.9 250.6,340.4 254.1,341.2 257.5,338.6 260.9,342.1 266.9,340.9 270.4,328.3 273.8,328.7 279.8,343.8 282.4,345 285.8,355 290.1,355.3 296.2,358.4 299.6,359.3 302.2,365.3 307.3,357.5 312.1,351.5 317.6,358.4 321.9,367.8 327.9,377.3 331.4,377 334,373.5 336.5,381.6 340.8,381.6 343.7,369.6 349.4,374.7 352.9,369.6 356.3,375.6 360.2,380.7 364.9,376.4 369.2,378.2 374.3,377 379.1,385 384.6,378.2 388.9,379.9 392.4,374.7 394.9,380.7 398,369.6 401.8,372.1 405.3,379.9 410.4,384.2 413.8,367.8 419.9,367 424.2,357.5 427.6,355 431,356.3 434.5,351.2 439.3,352.4 443.1,346.4 447.4,345.5 450,346.4 455.2,354.6 458.6,352.4 462.9,345.5 468,344.6 471.5,339.1 474.9,345 478.9,339.1 482.6,344.3 485.2,345.5 492.1,353.2 497.3,348.4 500.7,350.7 505,349.5 510.1,351.2 516.2,351.2 519.6,348.9 523.9,347.7 529.9,360.1 536.8,368.7 543.6,360.1 546.2,354.6 553.1,362.7 555.7,358.7 559.1,361.8 562.5,358.4 570.3,357.5 575.4,357 578,359.3 584.9,353.6 590.9,361 594.3,361.5 597.8,359.3 601.2,363.2 603.8,361.8 606.7,355 610.1,365.3 614.1,360.5 617.5,360.5 620.1,355.8 626.1,366.1 630.4,360.5 634.7,363.2 639.9,362.7 643.3,362.2 646.7,358.4 651.9,355.3 655.3,357 658.8,355.8 662.2,348.1 667.4,344.6 670,351.5 671.7,355 675.2,353.2 679.5,355.8 683.7,351.2 688,353.2 692.3,348.1 696.6,342.6 700.1,348.9 703.5,357 706.9,352.9 710.4,356.7 715.5,354.6 719,358.4 722.4,361.5 725.8,352.9 731.9,357 738.7,349.5 743,354.6 749,353.2 755.1,347.2 758.5,352.9 761.1,349.5 764.5,339.1 767.9,331.8 772.2,331.2 776.5,325.7 781.7,322.7 786.8,321.5 790.3,331.8 793.7,338.1 798,335.7 802.3,333 806.6,334.3 810,332.3 813.5,336.1 816,334 818.6,342.9 822.1,343.3 826.4,345.5 829.5,342.6 832.4,345.5 835,355.8 838.4,357 841.8,353.2 845.3,370.8 847.8,367.3 851.3,373 855.2,365.6 858.9,369.6 866.7,370.4 872.7,364.4 877,362.7 880,372.5 885.6,374.2 890,374.7 893.4,375.2 896,382.1 899.5,373.9 903.7,367.3 908.9,368.7 913.2,370.4 917.5,370.8 920.1,373 922.6,371.3 926.9,374.7 931.2,377.6 934.7,369 938.1,365.3 941.2,376.9 944.6,372.1 948.4,375.9 951,363.5 956.2,361 961.3,355.8 964.7,354.6 969.9,357.5 973.3,366.6 976.8,363.5 980.2,369.6 983.6,369.6 986.2,362.2 988.8,365.6 993.1,352.9 999.1,353.6 1002.5,357.5 1006.8,354.1 1010.3,355 1014.6,363.2 1018.9,360.5 1022.3,358 1024.9,363.2 1028.3,357.5 1033.5,367 1036.9,367.3 1041.2,367 1044.6,360.1 1049.8,356.3 1056.7,358.7 1061.8,354.1 1067,351.9 1070.1,361 1075.6,351.5 1079,355.3 1084.2,353.2 1087.6,354.6 1089.3,355.8 1091.6,340.6 1095.6,339.9 1099,346.2 1103.2,342 1107.1,345 1111.5,340.2 1114.9,342.9 1117.7,343.8 1117.7,331.4" fill="#dcf1e6" clip-path="url(#ob)"/>
<polygon points="10,376.4 10,328.3 16,320.1 19.5,325.7 22.9,336.9 26.3,332.6 29.8,327.5 33.2,329.2 37.5,330 41.8,331.8 45.2,331.8 47.8,339.5 54.7,348.1 58.1,341.6 63.3,340.9 68.4,348.9 71,347.2 77,338.1 80.4,339.5 83.9,336.9 86.5,330.9 89.9,326.6 94.2,330 97.6,330 103.6,334.3 108.8,327.5 112.2,326.6 116.5,329.2 119.1,334.3 124.3,329.2 129.4,324.9 132.3,319.2 135.4,329.2 138,336.1 141.4,333.5 144.9,334.7 147.5,332.3 150.9,340.4 154.3,341.6 156.9,347.2 161.2,348.4 163.8,347.2 167.2,355.8 170.7,354.1 176.7,351.9 180.1,344.6 185.3,343.8 189.6,344.3 193,361 199,364.4 202.4,360.1 205.9,364.4 211.9,348.1 216.2,345.5 222.2,338.6 227.4,336.9 230,337.4 235.2,333 237.7,334.3 242,343.8 246.3,340.9 250.6,340.4 254.1,341.2 257.5,338.6 260.9,342.1 266.9,340.9 270.4,328.3 273.8,328.7 279.8,343.8 282.4,345 285.8,355 290.1,355.3 296.2,358.4 299.6,359.3 302.2,365.3 307.3,357.5 312.1,351.5 317.6,358.4 321.9,367.8 327.9,377.3 331.4,377 334,373.5 336.5,381.6 340.8,381.6 343.7,369.6 349.4,374.7 352.9,369.6 356.3,375.6 360.2,380.7 364.9,376.4 369.2,378.2 374.3,377 379.1,385 384.6,378.2 388.9,379.9 392.4,374.7 394.9,380.7 398,369.6 401.8,372.1 405.3,379.9 410.4,384.2 413.8,367.8 419.9,367 424.2,357.5 427.6,355 431,356.3 434.5,351.2 439.3,352.4 443.1,346.4 447.4,345.5 450,346.4 455.2,354.6 458.6,352.4 462.9,345.5 468,344.6 471.5,339.1 474.9,345 478.9,339.1 482.6,344.3 485.2,345.5 492.1,353.2 497.3,348.4 500.7,350.7 505,349.5 510.1,351.2 516.2,351.2 519.6,348.9 523.9,347.7 529.9,360.1 536.8,368.7 543.6,360.1 546.2,354.6 553.1,362.7 555.7,358.7 559.1,361.8 562.5,358.4 570.3,357.5 575.4,357 578,359.3 584.9,353.6 590.9,361 594.3,361.5 597.8,359.3 601.2,363.2 603.8,361.8 606.7,355 610.1,365.3 614.1,360.5 617.5,360.5 620.1,355.8 626.1,366.1 630.4,360.5 634.7,363.2 639.9,362.7 643.3,362.2 646.7,358.4 651.9,355.3 655.3,357 658.8,355.8 662.2,348.1 667.4,344.6 670,351.5 671.7,355 675.2,353.2 679.5,355.8 683.7,351.2 688,353.2 692.3,348.1 696.6,342.6 700.1,348.9 703.5,357 706.9,352.9 710.4,356.7 715.5,354.6 719,358.4 722.4,361.5 725.8,352.9 731.9,357 738.7,349.5 743,354.6 749,353.2 755.1,347.2 758.5,352.9 761.1,349.5 764.5,339.1 767.9,331.8 772.2,331.2 776.5,325.7 781.7,322.7 786.8,321.5 790.3,331.8 793.7,338.1 798,335.7 802.3,333 806.6,334.3 810,332.3 813.5,336.1 816,334 818.6,342.9 822.1,343.3 826.4,345.5 829.5,342.6 832.4,345.5 835,355.8 838.4,357 841.8,353.2 845.3,370.8 847.8,367.3 851.3,373 855.2,365.6 858.9,369.6 866.7,370.4 872.7,364.4 877,362.7 880,372.5 885.6,374.2 890,374.7 893.4,375.2 896,382.1 899.5,373.9 903.7,367.3 908.9,368.7 913.2,370.4 917.5,370.8 920.1,373 922.6,371.3 926.9,374.7 931.2,377.6 934.7,369 938.1,365.3 941.2,376.9 944.6,372.1 948.4,375.9 951,363.5 956.2,361 961.3,355.8 964.7,354.6 969.9,357.5 973.3,366.6 976.8,363.5 980.2,369.6 983.6,369.6 986.2,362.2 988.8,365.6 993.1,352.9 999.1,353.6 1002.5,357.5 1006.8,354.1 1010.3,355 1014.6,363.2 1018.9,360.5 1022.3,358 1024.9,363.2 1028.3,357.5 1033.5,367 1036.9,367.3 1041.2,367 1044.6,360.1 1049.8,356.3 1056.7,358.7 1061.8,354.1 1067,351.9 1070.1,361 1075.6,351.5 1079,355.3 1084.2,353.2 1087.6,354.6 1089.3,355.8 1091.6,340.6 1095.6,339.9 1099,346.2 1103.2,342 1107.1,345 1111.5,340.2 1114.9,342.9 1117.7,343.8 1117.7,376.4" fill="#fbe4e4" clip-path="url(#os)"/>
<path d="M10,337.4 C11.7,336.5 16.9,333.7 20.3,332.3 C23.7,330.9 27.3,329.9 30.6,329.2 C33.9,328.5 37.1,328.2 40,328.3 C42.9,328.4 44.2,328.6 47.8,329.5 C51.4,330.4 57.8,332.7 61.5,334 C65.2,335.3 66.4,336.2 70.1,337.4 C73.8,338.6 79.6,340.8 83.9,341.2 C88.2,341.6 92.2,340.4 95.9,339.5 C99.6,338.6 102.2,337.4 106.2,336.1 C110.2,334.8 115.7,333 120,331.8 C124.3,330.6 127.4,329.4 132,329.2 C136.6,329 142.9,329.8 147.5,330.6 C152.1,331.5 155.5,332.5 159.5,334.3 C163.5,336.1 167.8,339.3 171.5,341.2 C175.2,343.1 177.8,343.9 181.8,345.5 C185.8,347.1 191,349.2 195.6,350.7 C200.2,352.2 205.3,354.2 209.3,354.6 C213.3,355 216.2,353.5 219.6,352.9 C223,352.2 227.4,351.4 230,350.7 C232.6,350 232.3,350.2 235.2,348.9 C238.1,347.6 243.5,344.4 247.2,342.9 C250.9,341.4 254.1,340.4 257.5,339.8 C260.9,339.2 264.7,339.8 267.8,339.5 C270.9,339.2 273.2,338.2 276.4,338.3 C279.5,338.4 283,339.3 286.7,340.4 C290.4,341.4 294.7,343 298.7,344.6 C302.7,346.2 306.8,348 310.8,350.1 C314.8,352.2 319.1,354.9 322.8,357 C326.5,359.1 329.7,361 333.1,362.7 C336.5,364.4 340,365.9 343.4,367.3 C346.8,368.7 350.3,369.9 353.7,371.3 C357.1,372.7 360.3,374.6 364,375.6 C367.7,376.6 372,376.9 376,377.3 C380,377.7 383.8,377.7 388.1,377.8 C392.4,377.9 397.8,378.1 401.8,378.2 C405.8,378.3 409,378.5 412.1,378.2 C415.2,377.9 417.8,377.4 420.7,376.4 C423.6,375.4 426.1,373.8 429.3,372.1 C432.5,370.4 436.2,368.2 439.6,366.1 C443.1,364 446.8,361.4 450,359.3 C453.2,357.2 455.7,355.2 458.6,353.6 C461.5,352 464.1,350.6 467.2,349.5 C470.3,348.4 474.1,347.7 477.5,347.2 C480.9,346.7 483.8,346.5 487.8,346.4 C491.8,346.3 497.2,346.6 501.5,346.7 C505.8,346.8 509.9,346.8 513.6,347.2 C517.3,347.6 520.5,347.9 523.9,348.9 C527.3,349.8 530.5,351.8 534.2,352.9 C537.9,354 542.2,354.9 546.2,355.8 C550.2,356.7 554.2,357.6 558.2,358.4 C562.2,359.2 566.6,360.4 570.3,360.5 C574,360.6 577.2,359.7 580.6,359.3 C584,358.9 586.9,358.1 590.9,358 C594.9,357.9 600,358.3 604.6,358.4 C609.2,358.5 614.1,358.4 618.4,358.7 C622.7,359 626.4,359.6 630.4,360.1 C634.4,360.6 638.7,361.7 642.4,361.8 C646.1,361.9 649.6,361.4 652.7,361 C655.9,360.6 658.4,360 661.3,359.3 C664.2,358.6 667.1,357.4 670,356.7 C672.9,356 675.7,355.6 678.6,355 C681.5,354.4 683.2,354 687.2,353.2 C691.2,352.4 698.3,350.2 702.6,350.1 C706.9,350 709,351.9 713,352.4 C717,352.9 721.8,352.8 726.7,353.2 C731.6,353.6 737.9,354.8 742.2,355 C746.5,355.2 749.1,355 752.5,354.6 C755.9,354.2 759.4,354.1 762.8,352.9 C766.2,351.7 769.7,349.1 773.1,347.2 C776.5,345.2 780,343.2 783.4,341.2 C786.8,339.2 790.6,336.8 793.7,335.2 C796.9,333.6 799.7,332.6 802.3,331.8 C804.9,331 806.9,330.5 809.2,330.4 C811.5,330.2 813.4,330.3 816,330.9 C818.6,331.5 821.7,332.7 824.6,334 C827.5,335.3 830.3,337.2 833.2,338.6 C836.1,340 838.9,340.9 841.8,342.6 C844.7,344.3 847.5,346.8 850.4,348.9 C853.2,351 856,353 858.9,355 C861.8,357 864.7,359.3 867.6,361 C870.5,362.7 873.6,364.1 876.2,365.3 C878.8,366.5 880.8,367.7 883.1,368.4 C885.4,369.1 887.7,369.1 890,369.6 C892.3,370.1 894,371.1 896.9,371.3 C899.8,371.5 903.8,370.8 907.2,370.8 C910.6,370.8 913.8,371 917.5,371.3 C921.2,371.6 926.1,372.4 929.5,372.5 C932.9,372.6 935,372 938.1,371.8 C941.2,371.6 945,371.8 948.4,371.3 C951.8,370.8 955,369.9 958.7,369 C962.4,368.1 966.8,366.5 970.8,365.6 C974.8,364.8 979.1,364.7 982.8,363.9 C986.5,363.1 989.7,361.7 993.1,361 C996.5,360.3 1000,359.9 1003.4,359.8 C1006.8,359.7 1010.3,360.2 1013.7,360.1 C1017.1,360 1020.9,359.6 1024,359.3 C1027.2,359 1029.7,358.2 1032.6,358.4 C1035.5,358.6 1038,360 1041.2,360.5 C1044.4,361 1048.1,361.4 1051.5,361.5 C1054.9,361.6 1058.4,361.5 1061.8,361 C1065.2,360.5 1068.7,359.5 1072.1,358.7 C1075.5,357.9 1079,357.1 1082.4,356.3 C1085.8,355.5 1089.3,355 1092.7,354.1 C1096.1,353.2 1100.1,352.1 1103,351.2 C1105.9,350.3 1107.5,349.8 1110,348.9 C1112.5,348 1116.4,346.6 1117.7,346.1" fill="none" stroke="#fde43a" stroke-width="1.4" stroke-linecap="round" stroke-linejoin="round"/>
<polyline points="10,328.3 16,320.1 19.5,325.7 22.9,336.9 26.3,332.6 29.8,327.5 33.2,329.2 37.5,330 41.8,331.8 45.2,331.8 47.8,339.5 54.7,348.1 58.1,341.6 63.3,340.9 68.4,348.9 71,347.2 77,338.1 80.4,339.5 83.9,336.9 86.5,330.9 89.9,326.6 94.2,330 97.6,330 103.6,334.3 108.8,327.5 112.2,326.6 116.5,329.2 119.1,334.3 124.3,329.2 129.4,324.9 132.3,319.2 135.4,329.2 138,336.1 141.4,333.5 144.9,334.7 147.5,332.3 150.9,340.4 154.3,341.6 156.9,347.2 161.2,348.4 163.8,347.2 167.2,355.8 170.7,354.1 176.7,351.9 180.1,344.6 185.3,343.8 189.6,344.3 193,361 199,364.4 202.4,360.1 205.9,364.4 211.9,348.1 216.2,345.5 222.2,338.6 227.4,336.9 230,337.4 235.2,333 237.7,334.3 242,343.8 246.3,340.9 250.6,340.4 254.1,341.2 257.5,338.6 260.9,342.1 266.9,340.9 270.4,328.3 273.8,328.7 279.8,343.8 282.4,345 285.8,355 290.1,355.3 296.2,358.4 299.6,359.3 302.2,365.3 307.3,357.5 312.1,351.5 317.6,358.4 321.9,367.8 327.9,377.3 331.4,377 334,373.5 336.5,381.6 340.8,381.6 343.7,369.6 349.4,374.7 352.9,369.6 356.3,375.6 360.2,380.7 364.9,376.4 369.2,378.2 374.3,377 379.1,385 384.6,378.2 388.9,379.9 392.4,374.7 394.9,380.7 398,369.6 401.8,372.1 405.3,379.9 410.4,384.2 413.8,367.8 419.9,367 424.2,357.5 427.6,355 431,356.3 434.5,351.2 439.3,352.4 443.1,346.4 447.4,345.5 450,346.4 455.2,354.6 458.6,352.4 462.9,345.5 468,344.6 471.5,339.1 474.9,345 478.9,339.1 482.6,344.3 485.2,345.5 492.1,353.2 497.3,348.4 500.7,350.7 505,349.5 510.1,351.2 516.2,351.2 519.6,348.9 523.9,347.7 529.9,360.1 536.8,368.7 543.6,360.1 546.2,354.6 553.1,362.7 555.7,358.7 559.1,361.8 562.5,358.4 570.3,357.5 575.4,357 578,359.3 584.9,353.6 590.9,361 594.3,361.5 597.8,359.3 601.2,363.2 603.8,361.8 606.7,355 610.1,365.3 614.1,360.5 617.5,360.5 620.1,355.8 626.1,366.1 630.4,360.5 634.7,363.2 639.9,362.7 643.3,362.2 646.7,358.4 651.9,355.3 655.3,357 658.8,355.8 662.2,348.1 667.4,344.6 670,351.5 671.7,355 675.2,353.2 679.5,355.8 683.7,351.2 688,353.2 692.3,348.1 696.6,342.6 700.1,348.9 703.5,357 706.9,352.9 710.4,356.7 715.5,354.6 719,358.4 722.4,361.5 725.8,352.9 731.9,357 738.7,349.5 743,354.6 749,353.2 755.1,347.2 758.5,352.9 761.1,349.5 764.5,339.1 767.9,331.8 772.2,331.2 776.5,325.7 781.7,322.7 786.8,321.5 790.3,331.8 793.7,338.1 798,335.7 802.3,333 806.6,334.3 810,332.3 813.5,336.1 816,334 818.6,342.9 822.1,343.3 826.4,345.5 829.5,342.6 832.4,345.5 835,355.8 838.4,357 841.8,353.2 845.3,370.8 847.8,367.3 851.3,373 855.2,365.6 858.9,369.6 866.7,370.4 872.7,364.4 877,362.7 880,372.5 885.6,374.2 890,374.7 893.4,375.2 896,382.1 899.5,373.9 903.7,367.3 908.9,368.7 913.2,370.4 917.5,370.8 920.1,373 922.6,371.3 926.9,374.7 931.2,377.6 934.7,369 938.1,365.3 941.2,376.9 944.6,372.1 948.4,375.9 951,363.5 956.2,361 961.3,355.8 964.7,354.6 969.9,357.5 973.3,366.6 976.8,363.5 980.2,369.6 983.6,369.6 986.2,362.2 988.8,365.6 993.1,352.9 999.1,353.6 1002.5,357.5 1006.8,354.1 1010.3,355 1014.6,363.2 1018.9,360.5 1022.3,358 1024.9,363.2 1028.3,357.5 1033.5,367 1036.9,367.3 1041.2,367 1044.6,360.1 1049.8,356.3 1056.7,358.7 1061.8,354.1 1067,351.9 1070.1,361 1075.6,351.5 1079,355.3 1084.2,353.2 1087.6,354.6 1089.3,355.8 1091.6,340.6 1095.6,339.9 1099,346.2 1103.2,342 1107.1,345 1111.5,340.2 1114.9,342.9 1117.7,343.8" fill="none" stroke="#7e57c2" stroke-width="1.2" stroke-linejoin="round" stroke-linecap="round"/>
<line x1="11" y1="424.5" x2="1205" y2="424.5" stroke="#787b86" stroke-width="1" stroke-dasharray="5 5"/>
<line x1="11" y1="452.5" x2="1205" y2="452.5" stroke="#9598a1" stroke-width="1" stroke-dasharray="5 5"/>
<line x1="11" y1="480.5" x2="1205" y2="480.5" stroke="#787b86" stroke-width="1" stroke-dasharray="5 5"/>
<polyline points="10,416.2 16.3,410.9 20.5,415.1 25.8,423.5 30,419.3 33.1,410.9 39.4,415.1 46.8,426.7 52,446.6 55.2,459.2 58.3,458.8 63.6,445.6 68.8,456.7 73,463.4 78.3,444.5 81.4,436.1 85.6,427.7 89.8,416.8 93,414.7 98.2,420.4 105.6,425.6 111.9,416.2 117.1,414.7 121.3,419.3 125.5,418.3 131.8,408.8 136,418.3 140.3,430.9 145.5,434 148.7,425.6 153.9,434 158.1,448.7 165.5,465.5 173.9,478.6 178.1,472.9 182.3,456.1 187.5,442 190.7,442.4 194.9,465.5 199.1,484.4 203.3,481.3 206.4,480.2 211.7,461.3 218,439.3 222.2,428.8 228.5,417.2 230,416.8 236.3,412 240.5,416.2 244.7,425.6 247.9,427.7 253.1,424.6 257.3,426.7 260.5,431.9 266.8,436.1 271,425.6 275.8,416.8 280.4,428.8 284.6,449.8 290.9,472.3 297.2,481.3 302.5,487 306.7,482.3 310.9,473.5 315.1,465.5 318.2,466.6 322.4,480.2 328.7,494.9 334,491.8 339.2,485.5 347.6,475.6 352.9,478.1 357.1,482.8 362.4,490.3 367.6,487.6 373.9,483.4 380.2,492.8 386.5,490.3 392.8,489.1 396,484.4 400.2,480.2 405.4,476 410.7,479.2 413.8,470.8 418,465.1 422.2,448.7 426.4,430.9 430.6,421.4 435.9,413 442.2,410.9 450,409.9 455.3,419.3 458.8,428.8 462.6,427.7 466.8,421.4 471.4,412.6 475.2,416.8 479.4,414.1 482.6,420.4 485.3,421 488.9,430.9 493.1,443.5 496.6,447 500.4,442.4 504.2,440.3 508.8,455 513,469.7 516.2,472.9 521.4,466.6 526.1,461.7 530.9,476 536.1,494.5 541.4,485.5 548.7,461.7 554,465.5 559.2,479.2 563.4,476 569.7,470.8 576.1,459.2 580.3,454.6 587.6,447.7 590.8,458.2 595,470.8 600.2,478.6 605.5,478.1 610.7,473.5 616,470.8 620.2,464.5 624.4,469.3 630.7,477.1 635.9,473.5 642.2,473.5 648.5,464.5 654.8,450.8 660.1,441.4 664.3,429.8 667.9,419.3 670,422.5 674.2,434 678.4,448.7 682.6,450.4 687.9,449.1 694.2,443.5 698.4,431.9 700.5,433 704.7,451.9 709.9,470.8 714.1,469.7 718.3,475 723.6,478.6 727.8,469.7 732,461.7 735.1,462.4 739.3,455 744.6,451.2 748.8,445.6 751.9,434 755.1,422.5 760.3,428.8 764.5,426.7 768.7,416.2 771.9,411.3 777.1,412 781.3,410.5 787.2,411.3 791.8,420.4 797.1,429.4 802.4,424.6 806.6,421 810.3,421.8 815,425.2 820.2,445.6 826.5,464.5 830.7,463.4 836,479.8 841.2,483.4 846.5,482.3 850.7,489.1 855.9,486.1 860.1,484.4 864.3,483.4 870.6,480.2 876.9,473.5 882.2,480.2 886.4,489.7 890,488.3 895.3,487.6 900.1,483.4 904.7,469.8 908.9,462.4 915.2,467.3 921.5,475 926.8,478.2 933.1,479.9 937.9,465.6 942.6,472.9 947.8,485.5 953.1,465.6 957.3,449.8 962.5,435.1 966.7,427.7 969.9,433 973,444.6 976.6,454 980.4,477.1 985.6,470.8 990.5,457.2 995.1,447.1 999.3,433 1003.5,437.2 1007.7,436.1 1011.9,434.5 1015.1,440.4 1018.2,448.3 1023.5,448.3 1027.7,453.4 1031.9,467.7 1036.1,479.9 1040.3,474 1044.5,462.4 1049.8,451.9 1056.1,447.1 1060.3,444.6 1066.6,437.2 1072.9,442.5 1078.1,429.4 1082.3,427.3 1088.7,444.1 1092.9,433 1098.7,423.5 1102.3,429.4 1105.5,428.8 1109.7,423.5 1113.9,423.5 1117.5,422.5" fill="none" stroke="#ff6d00" stroke-width="1.2" stroke-linejoin="round" stroke-linecap="round"/>
<polyline points="10,414 16.3,407.8 19.5,413 23,434 26.8,421.4 30,408.8 33.1,412 37.3,416.2 44.7,424.6 49.9,446.6 55.2,472.9 58.3,445.6 61.5,447.7 64.2,441.4 68.8,465.5 70.9,472.9 77.2,424.6 80.4,440.3 83.5,433 87.3,407.1 91.9,421.4 96.1,419.3 102.4,427.7 108.7,415.1 111.9,412 115,415.1 119.2,424.6 124.5,412 128.7,406.3 131.8,408.8 138.2,440.3 141.3,429.4 144.5,432.3 147.6,417.2 150.8,441.4 153.9,443.5 157.1,462.4 161.3,464.5 163.4,459.2 167.1,484.4 171.8,477.1 177,470.8 179.7,443.5 183.3,443 186.5,440.3 189.6,442 192.8,482.3 195.9,488.6 199.1,486.5 202.2,471.8 205.8,484.4 211.7,442.4 215.9,434 220.1,424.6 228.5,414.1 230,415.1 234.6,407.1 238,413 240.9,427.7 243.7,432.3 246.8,423.5 251,421.8 254.2,429.8 256.9,428.1 260.5,438.6 263.6,435.1 266.8,436.1 269.9,412.6 273.1,414.7 277.3,426.7 280.4,445.6 282.5,447 285.7,471.4 288.8,472.3 293,480.2 296.2,486.5 299.3,484.4 301.8,489.1 306.7,475 311.9,459.6 316.1,467.6 320.3,489.7 325.6,497.5 327.7,497.5 330.8,488.6 334,480.7 337.1,492.4 340.3,484.4 343.9,466 347.2,478.1 350.2,486.1 352.9,476.5 356,482.8 360.3,494.5 365.5,482.8 369.7,486.1 372.9,482.8 376,497 379.2,497 382.3,490.7 385.5,484.4 388.6,494.9 391.8,484.4 394.9,497 398.1,470.8 402.3,472.9 404.8,486.1 408.2,471.4 410.7,485.5 413.8,454.6 417.6,458.2 421.2,445.6 424.3,424.6 427.5,415.5 430.6,419.3 433.8,406.3 436.9,409.9 439.7,417.2 443.2,405.7 447.4,409.9 450,412 454.2,425.6 458.8,438.2 462.6,416.8 466.8,414.1 468.9,415.1 472.1,405.7 475.2,428.8 479,407.8 481.5,424.6 484.7,428.8 488.9,436.1 492,457.1 495.2,446.6 498.3,436.5 501.5,444.1 504.2,439.9 507.8,466.6 510.9,474.4 514.1,471.4 517.2,473.9 520.4,462.4 523.9,455 527.7,469.7 530.3,492.4 533.6,497 536.6,496 539.3,487 542.4,475 546,448.3 549.8,467.6 552.9,483.4 556.1,470.8 559.2,484 562.4,471.4 566.6,471.8 570.8,466.6 575,445.6 578.2,459.6 581.3,452.9 584.9,434.6 588.7,455 591.8,473.9 595,480.7 598.1,472.9 601.3,485.5 604.4,478.6 607.1,457.5 610.1,483.4 613.9,467.2 617,470.8 620.2,454.6 623.3,472.9 626.1,488.2 630.3,470.8 633.8,475 638.7,471.4 642.2,472.9 646.4,464.5 650.6,454 654.8,444.9 659,439.9 664.3,417.6 667.4,412.6 670,423.5 671.1,444.5 674.2,444.5 677.4,452.9 680.9,455 684.3,440.7 687.9,453.3 692.1,442.8 694.8,435.1 696.9,420.4 700.5,443.5 704,478.1 706.8,458.8 709.9,477.1 713.1,474.4 715.8,467.2 720,487.6 722.9,482.8 726.3,454.6 729.2,460.9 732,470.2 735.1,458.2 738.9,444.5 741.8,457.1 745.6,448.7 748.8,430.9 751.9,420.4 755.1,415.1 757.8,436.1 760.8,435.1 762.4,424.6 765,409.2 768.7,410.5 771.3,413 774,410.5 777.1,412 780.9,406.7 783.9,412.6 786.6,413 789.7,422.5 794,434 797.1,428.8 799.8,419.3 804.5,421.4 808.7,422.5 812.9,433 815,427.7 818.1,459.2 822.3,462.4 825.9,472.9 828.6,454 831.3,461.3 834.9,488.2 838.1,487.6 841.8,475.6 844.8,488.2 847.5,481.3 850.7,496.6 854.9,477.1 858,490.7 861.2,481.9 866.4,484.4 871.7,478.1 876.9,469.3 879.7,488.2 883.2,489.1 886.4,493.9 890,484.1 892.5,486.2 895.9,493.3 899.5,480.3 903,461.4 905.8,460.3 911,466.6 915.2,469.4 919.4,480.3 923.6,477.1 927.8,482.4 932,482.8 934.6,461.4 937.9,453 940.9,491.2 944.2,478.2 947.8,490.8 951,459.3 954.1,451.3 957.3,442 961.1,421.9 964.6,426.7 967.8,433.6 970.9,436.1 973,472.9 976.6,464.5 980,491.9 982.5,470.2 985.6,453 988.8,463.5 993,430.9 996.2,433.6 998.9,431.9 1001.8,444.1 1005.6,436.1 1008.8,426.7 1011.9,438.2 1015.1,456.1 1018.2,447.7 1022,440.4 1025,458.8 1027.7,459.7 1031.3,484.9 1034,487.6 1038.2,468.7 1041.4,467.7 1044.5,453 1047.2,456.7 1050.2,445.6 1054,448.3 1059.2,444.6 1063.4,435.7 1067,433 1070.4,454.6 1073.3,440.4 1076,417.6 1080.2,430.9 1083.4,434 1086.6,437.2 1088.7,461.4 1092.2,405 1096,423.5 1099.2,442 1102.3,424.6 1105.5,421.4 1108.2,430.9 1111.8,416.2 1114.5,423.5 1117.5,426.7" fill="none" stroke="#2962ff" stroke-width="1.2" stroke-linejoin="round" stroke-linecap="round"/>
<text x="18.4" y="45.9" font-family="Liberation Sans, Arial, sans-serif" font-size="12.5" fill="#131722" textLength="155.5" lengthAdjust="spacingAndGlyphs">SOL / TetherUS, 4h, BINANCE</text>
<text x="181.7" y="45.9" font-family="Liberation Sans, Arial, sans-serif" font-size="12.5" fill="#131722" textLength="44" lengthAdjust="spacingAndGlyphs">O135.64</text>
<text x="233.2" y="45.9" font-family="Liberation Sans, Arial, sans-serif" font-size="12.5" fill="#131722" textLength="43.4" lengthAdjust="spacingAndGlyphs">H135.79</text>
<text x="284.8" y="45.9" font-family="Liberation Sans, Arial, sans-serif" font-size="12.5" fill="#131722" textLength="40.2" lengthAdjust="spacingAndGlyphs">L135.40</text>
<text x="332.8" y="45.9" font-family="Liberation Sans, Arial, sans-serif" font-size="12.5" fill="#131722" textLength="43.3" lengthAdjust="spacingAndGlyphs">C135.44</text>
<text x="384.3" y="45.9" font-family="Liberation Sans, Arial, sans-serif" font-size="12.5" fill="#131722" textLength="77.3" lengthAdjust="spacingAndGlyphs">−0.19 (−0.14%)</text>
<text x="18.4" y="62.2" font-family="Liberation Sans, Arial, sans-serif" font-size="12.5" fill="#131722" textLength="47.2" lengthAdjust="spacingAndGlyphs">Vol · SOL</text>
<text x="18" y="79.9" font-family="Liberation Sans, Arial, sans-serif" font-size="12.5" fill="#131722" textLength="26" lengthAdjust="spacingAndGlyphs">SMAs</text>
<text x="19" y="332.6" font-family="Liberation Sans, Arial, sans-serif" font-size="12.5" fill="#131722" textLength="14.2" lengthAdjust="spacingAndGlyphs">RSI</text>
<text x="18.2" y="412.8" font-family="Liberation Sans, Arial, sans-serif" font-size="12.5" fill="#131722" textLength="28.7" lengthAdjust="spacingAndGlyphs">Stoch</text>
<text x="16.5" y="526.3" font-family="Liberation Sans, Arial, sans-serif" font-size="12.5" fill="#131722" textLength="11.8" lengthAdjust="spacingAndGlyphs">16</text>
<text x="132.5" y="526.3" font-family="Liberation Sans, Arial, sans-serif" font-size="12.5" fill="#131722" textLength="12.0" lengthAdjust="spacingAndGlyphs">22</text>
<text x="228.75" y="526.3" font-family="Liberation Sans, Arial, sans-serif" font-size="12.5" fill="#131722" textLength="11.75" lengthAdjust="spacingAndGlyphs">27</text>
<text x="320.75" y="526.3" font-family="Liberation Sans, Arial, sans-serif" font-size="12.5" fill="#131722" textLength="20.5" lengthAdjust="spacingAndGlyphs" font-weight="bold">Aug</text>
<text x="424.25" y="526.3" font-family="Liberation Sans, Arial, sans-serif" font-size="12.5" fill="#131722" textLength="6.0" lengthAdjust="spacingAndGlyphs">6</text>
<text x="537" y="526.3" font-family="Liberation Sans, Arial, sans-serif" font-size="12.5" fill="#131722" textLength="11.75" lengthAdjust="spacingAndGlyphs">12</text>
<text x="671.75" y="526.3" font-family="Liberation Sans, Arial, sans-serif" font-size="12.5" fill="#131722" textLength="12.25" lengthAdjust="spacingAndGlyphs">19</text>
<text x="806.75" y="526.3" font-family="Liberation Sans, Arial, sans-serif" font-size="12.5" fill="#131722" textLength="12.5" lengthAdjust="spacingAndGlyphs">26</text>
<text x="918.75" y="526.3" font-family="Liberation Sans, Arial, sans-serif" font-size="12.5" fill="#131722" textLength="19.25" lengthAdjust="spacingAndGlyphs" font-weight="bold">Sep</text>
<text x="1080" y="526.3" font-family="Liberation Sans, Arial, sans-serif" font-size="12.5" fill="#131722" textLength="6.25" lengthAdjust="spacingAndGlyphs">9</text>
<text x="1173.75" y="526.3" font-family="Liberation Sans, Arial, sans-serif" font-size="12.5" fill="#131722" textLength="11.25" lengthAdjust="spacingAndGlyphs">14</text>
<rect x="1209.5" y="31.5" width="57" height="25" rx="4" fill="#fff" stroke="#e0e3eb" stroke-width="1"/>
<text x="1218.6" y="48.8" font-family="Liberation Sans, Arial, sans-serif" font-size="12.5" fill="#131722" textLength="26.8" lengthAdjust="spacingAndGlyphs">USDT</text>
<text x="1214.8" y="108.9" font-family="Liberation Sans, Arial, sans-serif" font-size="12.5" fill="#131722" textLength="34.7" lengthAdjust="spacingAndGlyphs">180.00</text>
<text x="1214.8" y="164.5" font-family="Liberation Sans, Arial, sans-serif" font-size="12.5" fill="#131722" textLength="34.7" lengthAdjust="spacingAndGlyphs">160.00</text>
<path d="M1206,61 H1253 Q1255,61 1255,63 V73 Q1255,75 1253,75 H1206 Z" fill="#000"/>
<text x="1214.4" y="70.8" font-family="Liberation Sans, Arial, sans-serif" font-size="12.5" fill="#fff" textLength="35" lengthAdjust="spacingAndGlyphs" font-weight="bold">193.93</text>
<path d="M1206,142 H1253 Q1255,142 1255,144 V157 Q1255,159 1253,159 H1206 Z" fill="#000"/>
<text x="1214.4" y="154.7" font-family="Liberation Sans, Arial, sans-serif" font-size="12.5" fill="#fff" textLength="35" lengthAdjust="spacingAndGlyphs" font-weight="bold">163.69</text>
<path d="M1206,203.2 H1253 Q1255,203.2 1255,205.2 V218 Q1255,220 1253,220 H1206 Z" fill="#000"/>
<text x="1214.4" y="215.6" font-family="Liberation Sans, Arial, sans-serif" font-size="12.5" fill="#fff" textLength="35.2" lengthAdjust="spacingAndGlyphs" font-weight="bold">136.00</text>
<path d="M1206,219.7 H1264 Q1266,219.7 1266,221.7 V248.5 Q1266,250.5 1264,250.5 H1206 Z" fill="#000"/>
<text x="1214.4" y="232.7" font-family="Liberation Sans, Arial, sans-serif" font-size="12.5" fill="#fff" textLength="35.2" lengthAdjust="spacingAndGlyphs" font-weight="bold">135.44</text>
<text x="1214.2" y="246" font-family="Liberation Sans, Arial, sans-serif" font-size="12.5" fill="#c3c5cc" textLength="46.4" lengthAdjust="spacingAndGlyphs" font-weight="bold">03:43:10</text>
<path d="M1206,263.2 H1253 Q1255,263.2 1255,265.2 V295 Q1255,297 1253,297 H1206 Z" fill="#000"/>
<text x="1214.4" y="276" font-family="Liberation Sans, Arial, sans-serif" font-size="12.5" fill="#fff" textLength="35.2" lengthAdjust="spacingAndGlyphs" font-weight="bold">120.00</text>
<text x="1214.4" y="291.5" font-family="Liberation Sans, Arial, sans-serif" font-size="12.5" fill="#fff" textLength="35.2" lengthAdjust="spacingAndGlyphs" font-weight="bold">115.97</text>
<path d="M1206,297 H1256 Q1258,297 1258,299 V311 Q1258,313 1256,313 H1206 Z" fill="#ef5350"/>
<text x="1214.4" y="309" font-family="Liberation Sans, Arial, sans-serif" font-size="12.5" fill="#fff" textLength="37.5" lengthAdjust="spacingAndGlyphs" font-weight="bold">11.84K</text>
<text x="1214.3" y="323.6" font-family="Liberation Sans, Arial, sans-serif" font-size="12.5" fill="#131722" textLength="28.7" lengthAdjust="spacingAndGlyphs">80.00</text>
<path d="M1206,336 H1247 Q1249,336 1249,338 V351 Q1249,353 1247,353 H1206 Z" fill="#7e57c2"/>
<text x="1214.2" y="348.9" font-family="Liberation Sans, Arial, sans-serif" font-size="12.5" fill="#fff" textLength="29" lengthAdjust="spacingAndGlyphs" font-weight="bold">58.76</text>
<path d="M1206,353 H1247 Q1249,353 1249,355 V367.8 Q1249,369.8 1247,369.8 H1206 Z" fill="#ffe936"/>
<text x="1214.2" y="365.5" font-family="Liberation Sans, Arial, sans-serif" font-size="12.5" fill="#131722" textLength="29" lengthAdjust="spacingAndGlyphs">56.18</text>
<path d="M1206,402.1 H1247 Q1249,402.1 1249,404.1 V417 Q1249,419 1247,419 H1206 Z" fill="#ff6d00"/>
<text x="1214.2" y="414.3" font-family="Liberation Sans, Arial, sans-serif" font-size="12.5" fill="#fff" textLength="29" lengthAdjust="spacingAndGlyphs" font-weight="bold">81.37</text>
<path d="M1206,419 H1247 Q1249,419 1249,421 V434 Q1249,436 1247,436 H1206 Z" fill="#2962ff"/>
<text x="1214.2" y="431.7" font-family="Liberation Sans, Arial, sans-serif" font-size="12.5" fill="#fff" textLength="29" lengthAdjust="spacingAndGlyphs" font-weight="bold">76.81</text>
<text x="1214.3" y="466.4" font-family="Liberation Sans, Arial, sans-serif" font-size="12.5" fill="#131722" textLength="28.7" lengthAdjust="spacingAndGlyphs">40.00</text>
<text x="1214.3" y="502.9" font-family="Liberation Sans, Arial, sans-serif" font-size="12.5" fill="#131722" textLength="22" lengthAdjust="spacingAndGlyphs">0.00</text>
<text x="10.2" y="18.6" font-family="Liberation Sans, Arial, sans-serif" font-size="12.5" fill="#2a2e39" textLength="393" lengthAdjust="spacingAndGlyphs">CryptoFXStreet published on TradingView.com, Sep 10, 2024 20:16 UTC-4</text>
<g fill="#131722"><path d="M9.9,548 H18.2 V558 H14 V551.6 H9.9 Z"/><circle cx="21.2" cy="549.9" r="1.95"/><path d="M24.6,548 H29.4 L25.5,558 H20.7 Z"/></g>
<text x="33.3" y="557.6" font-family="Liberation Sans, Arial, sans-serif" font-size="12.8" fill="#2a2e39" textLength="69.7" lengthAdjust="spacingAndGlyphs">TradingView</text>
</svg>
</body></html>
